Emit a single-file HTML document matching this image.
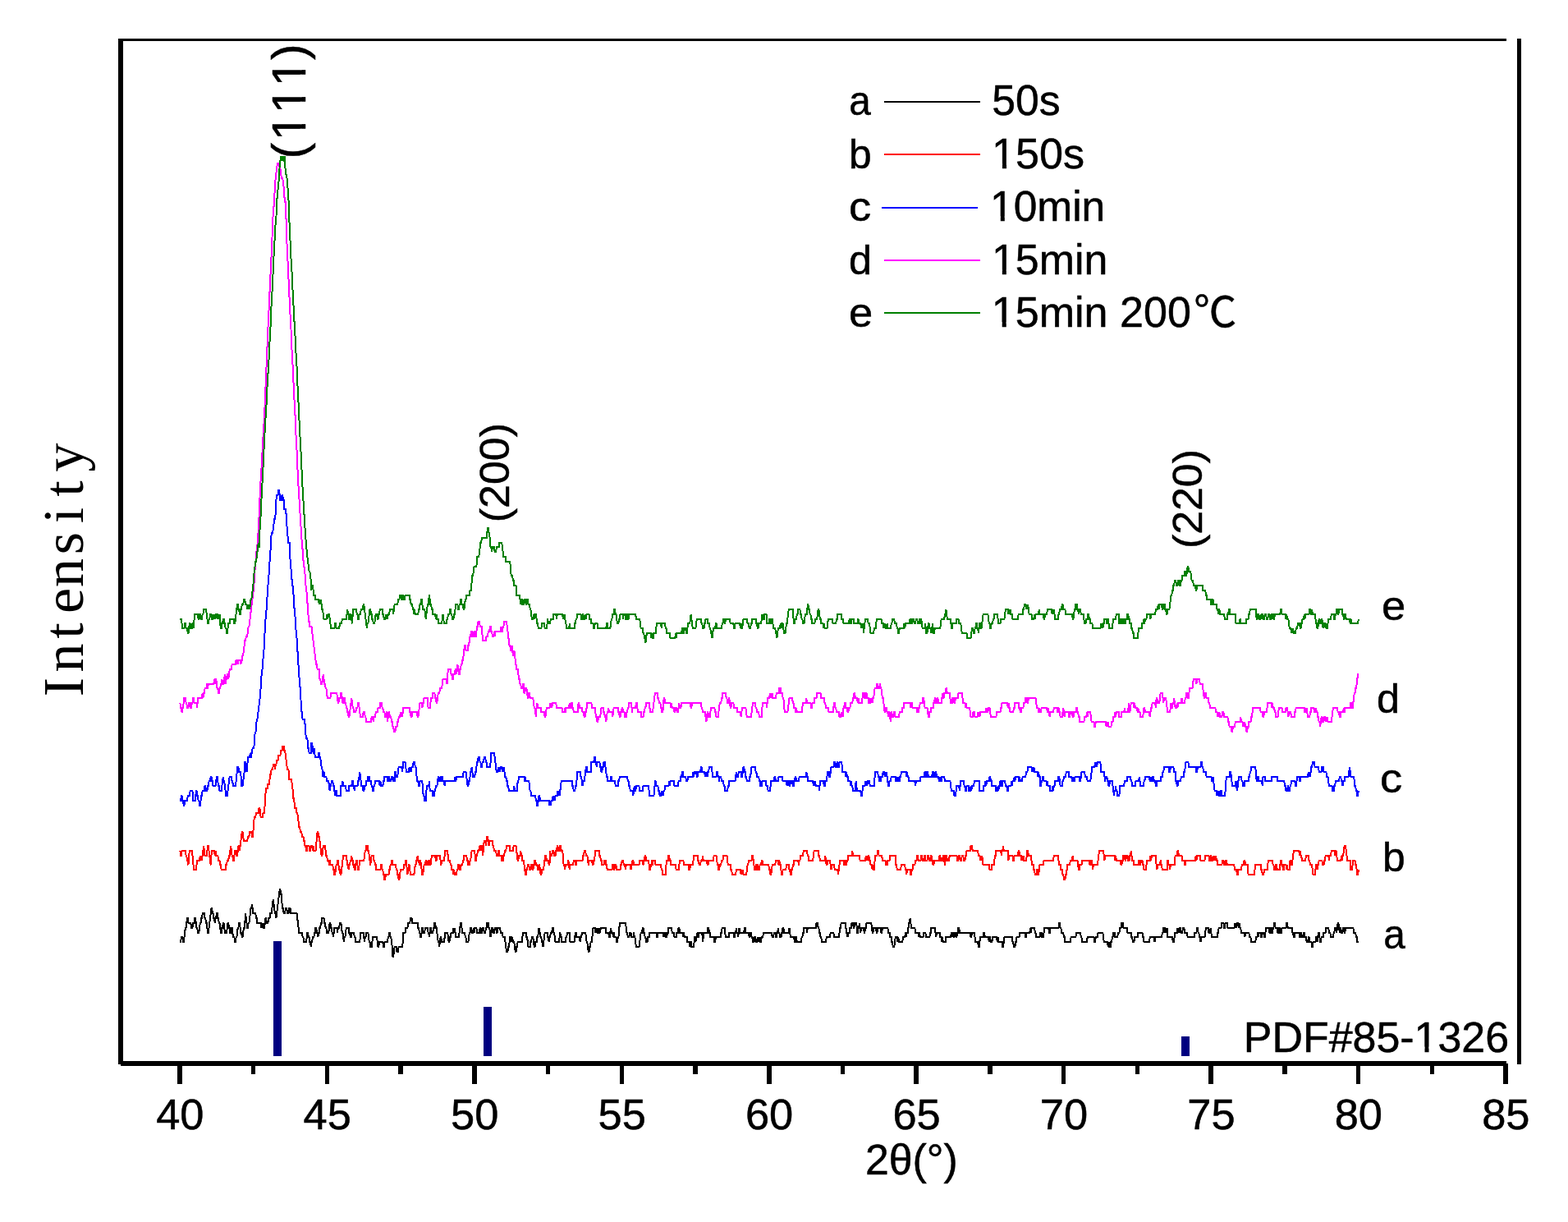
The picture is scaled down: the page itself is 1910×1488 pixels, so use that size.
<!DOCTYPE html>
<html lang="en">
<head>
<meta charset="utf-8">
<title>XRD patterns</title>
<style>
html,body{margin:0;padding:0;background:#fff;}
body{width:1910px;height:1488px;overflow:hidden;font-family:"Liberation Sans",sans-serif;}
svg{display:block;}
</style>
</head>
<body>
<svg xmlns="http://www.w3.org/2000/svg" width="1910" height="1488" viewBox="0 0 1910 1488">
<rect x="0" y="0" width="1910" height="1488" fill="#fff"/>
<g fill="none" stroke-width="2" stroke-linejoin="miter" stroke-linecap="butt" shape-rendering="crispEdges">
<polyline stroke="#000000" points="219.4,1147.14 220.12,1147.14 220.84,1141.33 222.27,1141.33 222.99,1147.14 223.71,1147.14 224.42,1141.33 225.14,1135.52 225.86,1129.71 226.58,1129.71 227.29,1123.9 228.01,1118.09 228.73,1118.09 229.45,1123.9 232.32,1123.9 233.04,1129.71 234.47,1129.71 235.19,1123.9 236.62,1123.9 237.34,1118.09 238.06,1118.09 238.78,1123.9 239.5,1129.71 240.21,1129.71 240.93,1135.52 242.37,1135.52 243.08,1129.71 243.8,1123.9 244.52,1123.9 245.24,1118.09 245.95,1118.09 246.67,1112.28 248.83,1112.28 249.54,1118.09 250.26,1118.09 250.98,1123.9 251.7,1123.9 252.41,1129.71 253.13,1135.52 253.85,1135.52 254.57,1129.71 255.29,1123.9 256,1118.09 256.72,1112.28 257.44,1106.47 258.16,1106.47 258.87,1112.28 259.59,1112.28 260.31,1118.09 261.03,1118.09 261.74,1123.9 262.46,1118.09 263.18,1118.09 263.9,1112.28 264.62,1112.28 265.33,1118.09 266.05,1118.09 266.77,1123.9 267.49,1123.9 268.2,1129.71 268.92,1135.52 269.64,1135.52 270.36,1129.71 271.07,1129.71 271.79,1123.9 272.51,1123.9 273.23,1129.71 273.95,1135.52 276.1,1135.52 276.82,1129.71 277.53,1123.9 278.25,1123.9 278.97,1129.71 279.69,1129.71 280.4,1135.52 281.12,1135.52 281.84,1129.71 282.56,1129.71 283.28,1135.52 283.99,1141.33 285.43,1141.33 286.15,1147.14 286.86,1147.14 287.58,1141.33 288.3,1141.33 289.02,1135.52 289.73,1129.71 290.45,1129.71 291.17,1123.9 291.89,1123.9 292.61,1129.71 293.32,1135.52 294.04,1135.52 294.76,1141.33 295.48,1141.33 296.19,1135.52 296.91,1129.71 297.63,1129.71 298.35,1123.9 299.06,1112.28 299.78,1118.09 300.5,1123.9 301.22,1129.71 301.94,1129.71 302.65,1123.9 303.37,1123.9 304.09,1118.09 304.81,1112.28 305.52,1106.47 306.24,1106.47 306.96,1100.66 307.68,1106.47 308.39,1112.28 311.27,1112.28 311.98,1118.09 312.7,1118.09 313.42,1123.9 317.72,1123.9 318.44,1129.71 319.16,1123.9 319.88,1129.71 320.6,1123.9 321.31,1129.71 322.03,1129.71 322.75,1123.9 323.47,1118.09 324.18,1118.09 324.9,1123.9 326.34,1123.9 327.06,1118.09 328.49,1118.09 329.21,1112.28 330.64,1112.28 331.36,1106.47 332.08,1100.66 332.8,1094.85 333.51,1100.66 334.23,1106.47 334.95,1112.28 335.67,1112.28 336.39,1118.09 337.1,1112.28 337.82,1106.47 338.54,1100.66 339.26,1094.85 339.97,1089.04 340.69,1083.23 341.41,1083.23 342.13,1089.04 342.84,1089.04 343.56,1100.66 344.28,1106.47 345,1106.47 345.72,1112.28 347.15,1112.28 347.87,1106.47 349.3,1106.47 350.02,1112.28 351.46,1112.28 352.17,1106.47 353.61,1106.47 354.33,1112.28 361.5,1112.28 362.22,1118.09 362.94,1123.9 363.66,1129.71 364.38,1135.52 367.96,1135.52 368.68,1141.33 369.4,1141.33 370.12,1147.14 372.99,1147.14 373.71,1141.33 374.42,1135.52 375.14,1135.52 375.86,1141.33 376.58,1141.33 377.29,1147.14 378.01,1147.14 378.73,1152.95 379.45,1147.14 380.16,1147.14 380.88,1141.33 382.32,1141.33 383.04,1135.52 383.75,1135.52 384.47,1129.71 385.19,1129.71 385.91,1135.52 386.62,1135.52 387.34,1141.33 388.06,1135.52 388.78,1135.52 389.49,1129.71 390.21,1129.71 390.93,1123.9 391.65,1123.9 392.37,1118.09 394.52,1118.09 395.24,1123.9 395.95,1123.9 396.67,1129.71 397.39,1129.71 398.11,1135.52 400.26,1135.52 400.98,1129.71 401.7,1123.9 402.41,1123.9 403.13,1129.71 403.85,1129.71 404.57,1135.52 405.28,1135.52 406,1141.33 406.72,1135.52 407.44,1129.71 410.31,1129.71 411.03,1135.52 411.74,1129.71 413.18,1129.71 413.9,1123.9 415.33,1123.9 416.05,1129.71 416.77,1135.52 417.49,1135.52 418.2,1141.33 418.92,1147.14 419.64,1141.33 420.36,1141.33 421.07,1135.52 421.79,1129.71 424.66,1129.71 425.38,1135.52 426.1,1135.52 426.82,1141.33 427.53,1141.33 428.25,1135.52 431.12,1135.52 431.84,1141.33 432.56,1141.33 433.27,1147.14 438.3,1147.14 439.02,1135.52 442.6,1135.52 443.32,1141.33 444.04,1147.14 444.76,1141.33 445.48,1141.33 446.19,1135.52 448.35,1135.52 449.06,1141.33 449.78,1147.14 450.5,1147.14 451.22,1152.95 452.65,1152.95 453.37,1147.14 454.09,1141.33 459.11,1141.33 459.83,1147.14 460.55,1152.95 461.26,1152.95 461.98,1147.14 466.29,1147.14 467.01,1152.95 467.72,1152.95 468.44,1147.14 472.03,1147.14 472.75,1141.33 473.47,1141.33 474.18,1135.52 474.9,1135.52 475.62,1141.33 476.34,1141.33 477.05,1147.14 477.77,1152.95 478.49,1164.57 479.21,1164.57 479.93,1158.76 480.64,1152.95 482.8,1152.95 483.51,1158.76 484.95,1158.76 485.67,1152.95 489.97,1152.95 490.69,1147.14 491.41,1135.52 493.56,1135.52 494.28,1129.71 496.43,1129.71 497.15,1123.9 499.3,1123.9 500.02,1118.09 501.46,1118.09 502.17,1123.9 508.63,1123.9 509.35,1129.71 510.07,1129.71 510.79,1135.52 511.5,1135.52 512.22,1141.33 512.94,1141.33 513.66,1135.52 514.37,1129.71 515.09,1129.71 515.81,1135.52 517.25,1135.52 517.96,1129.71 520.83,1129.71 521.55,1135.52 522.27,1135.52 522.99,1141.33 523.7,1135.52 524.42,1129.71 525.14,1129.71 525.86,1135.52 527.29,1135.52 528.01,1129.71 528.73,1129.71 529.45,1123.9 530.16,1123.9 530.88,1129.71 531.6,1129.71 532.32,1135.52 533.03,1141.33 533.75,1147.14 534.47,1147.14 535.19,1152.95 535.91,1147.14 536.62,1141.33 537.34,1141.33 538.06,1147.14 540.93,1147.14 541.65,1141.33 542.37,1135.52 545.24,1135.52 545.95,1141.33 546.67,1147.14 547.39,1147.14 548.11,1141.33 548.82,1141.33 549.54,1135.52 551.7,1135.52 552.41,1129.71 553.13,1135.52 553.85,1129.71 554.57,1135.52 555.28,1141.33 558.87,1141.33 559.59,1135.52 560.31,1129.71 561.03,1123.9 561.74,1123.9 562.46,1129.71 563.18,1135.52 566.05,1135.52 566.77,1141.33 567.48,1141.33 568.2,1147.14 570.36,1147.14 571.07,1141.33 571.79,1135.52 572.51,1135.52 573.23,1129.71 573.94,1129.71 574.66,1135.52 576.1,1135.52 576.81,1129.71 577.53,1135.52 578.25,1129.71 580.4,1129.71 581.12,1135.52 583.99,1135.52 584.71,1129.71 585.43,1129.71 586.14,1135.52 586.86,1135.52 587.58,1129.71 589.02,1129.71 589.73,1135.52 591.17,1135.52 591.89,1129.71 592.6,1129.71 593.32,1123.9 594.76,1123.9 595.47,1129.71 596.19,1129.71 596.91,1135.52 597.63,1141.33 598.35,1135.52 599.06,1129.71 599.78,1129.71 600.5,1135.52 601.93,1135.52 602.65,1129.71 604.09,1129.71 604.8,1135.52 605.52,1135.52 606.24,1129.71 609.11,1129.71 609.83,1135.52 611.98,1135.52 612.7,1141.33 614.85,1141.33 615.57,1147.14 616.29,1152.95 617.01,1158.76 618.44,1158.76 619.16,1152.95 619.88,1152.95 620.59,1147.14 621.31,1141.33 622.75,1141.33 623.47,1147.14 624.18,1141.33 624.9,1147.14 626.34,1147.14 627.05,1152.95 627.77,1158.76 628.49,1158.76 629.21,1152.95 629.92,1152.95 630.64,1147.14 635.67,1147.14 636.38,1141.33 637.1,1135.52 640.69,1135.52 641.41,1141.33 642.13,1141.33 642.84,1147.14 643.56,1152.95 645.71,1152.95 646.43,1147.14 647.15,1147.14 647.87,1141.33 649.3,1141.33 650.02,1147.14 650.74,1152.95 651.46,1152.95 652.17,1147.14 653.61,1147.14 654.33,1141.33 655.04,1141.33 655.76,1135.52 656.48,1129.71 657.2,1135.52 657.91,1135.52 658.63,1141.33 659.35,1141.33 660.07,1147.14 660.79,1147.14 661.5,1152.95 662.22,1147.14 662.94,1141.33 663.66,1135.52 666.53,1135.52 667.24,1141.33 667.96,1141.33 668.68,1147.14 669.4,1141.33 670.12,1141.33 670.83,1135.52 672.27,1135.52 672.99,1129.71 673.7,1129.71 674.42,1135.52 675.14,1135.52 675.86,1141.33 676.57,1147.14 680.88,1147.14 681.6,1141.33 682.32,1135.52 683.03,1141.33 683.75,1141.33 684.47,1147.14 688.78,1147.14 689.49,1141.33 690.21,1141.33 690.93,1135.52 693.8,1135.52 694.52,1147.14 699.54,1147.14 700.26,1141.33 700.98,1135.52 701.69,1135.52 702.41,1141.33 706,1141.33 706.72,1147.14 707.44,1141.33 708.15,1141.33 708.87,1135.52 713.18,1135.52 713.9,1141.33 714.61,1147.14 715.33,1147.14 716.05,1152.95 716.77,1158.76 717.48,1158.76 718.2,1152.95 718.92,1152.95 719.64,1147.14 721.07,1147.14 721.79,1135.52 722.51,1129.71 724.66,1129.71 725.38,1135.52 726.1,1129.71 726.81,1135.52 727.53,1129.71 728.25,1135.52 729.68,1135.52 730.4,1129.71 731.12,1135.52 731.84,1129.71 737.58,1129.71 738.3,1135.52 741.17,1135.52 741.89,1141.33 742.6,1141.33 743.32,1135.52 744.04,1129.71 744.76,1135.52 746.19,1135.52 746.91,1141.33 747.63,1135.52 748.34,1141.33 750.5,1141.33 751.22,1147.14 751.93,1147.14 752.65,1141.33 753.37,1141.33 754.09,1135.52 754.8,1123.9 761.98,1123.9 762.7,1129.71 763.42,1135.52 764.13,1135.52 764.85,1141.33 766.29,1141.33 767.01,1135.52 768.44,1135.52 769.16,1141.33 771.31,1141.33 772.03,1135.52 772.75,1141.33 773.46,1141.33 774.18,1147.14 774.9,1152.95 778.49,1152.95 779.21,1147.14 779.92,1141.33 780.64,1135.52 782.08,1135.52 782.79,1129.71 783.51,1129.71 784.23,1135.52 784.95,1135.52 785.67,1141.33 786.38,1141.33 787.1,1147.14 788.54,1147.14 789.25,1141.33 790.69,1141.33 791.41,1135.52 799.3,1135.52 800.02,1141.33 800.74,1141.33 801.45,1135.52 807.91,1135.52 808.63,1141.33 809.35,1135.52 810.07,1141.33 810.78,1135.52 811.5,1141.33 812.22,1141.33 812.94,1135.52 813.66,1135.52 814.37,1129.71 817.96,1129.71 818.68,1135.52 820.83,1135.52 821.55,1141.33 823.7,1141.33 824.42,1135.52 825.86,1135.52 826.57,1129.71 827.29,1129.71 828.01,1135.52 831.6,1135.52 832.32,1141.33 833.03,1135.52 833.75,1141.33 836.62,1141.33 837.34,1147.14 839.49,1147.14 840.21,1152.95 840.93,1147.14 841.65,1147.14 842.36,1152.95 845.23,1152.95 845.95,1141.33 846.67,1141.33 847.39,1147.14 848.11,1141.33 848.82,1141.33 849.54,1135.52 850.26,1141.33 850.98,1141.33 851.69,1135.52 855.28,1135.52 856,1147.14 856.72,1141.33 857.44,1135.52 861.74,1135.52 862.46,1129.71 863.18,1129.71 863.89,1135.52 864.61,1135.52 865.33,1141.33 869.64,1141.33 870.35,1147.14 871.07,1147.14 871.79,1141.33 877.53,1141.33 878.25,1135.52 878.97,1135.52 879.68,1129.71 882.55,1129.71 883.27,1135.52 883.99,1141.33 887.58,1141.33 888.3,1135.52 893.32,1135.52 894.04,1141.33 894.76,1141.33 895.47,1135.52 896.19,1135.52 896.91,1129.71 897.63,1135.52 898.34,1135.52 899.06,1141.33 899.78,1135.52 900.5,1129.71 901.22,1135.52 906.24,1135.52 906.96,1129.71 907.67,1129.71 908.39,1135.52 911.98,1135.52 912.7,1141.33 913.42,1141.33 914.13,1135.52 914.85,1135.52 915.57,1141.33 916.29,1141.33 917,1147.14 917.72,1147.14 918.44,1141.33 919.88,1141.33 920.59,1147.14 922.03,1147.14 922.75,1141.33 923.46,1147.14 924.18,1141.33 924.9,1147.14 925.62,1141.33 926.33,1147.14 927.05,1147.14 927.77,1141.33 929.21,1141.33 929.92,1135.52 939.97,1135.52 940.69,1141.33 942.12,1141.33 942.84,1135.52 944.28,1135.52 944.99,1141.33 945.71,1141.33 946.43,1135.52 947.15,1135.52 947.87,1129.71 948.58,1135.52 949.3,1135.52 950.02,1141.33 951.45,1141.33 952.17,1135.52 952.89,1135.52 953.61,1129.71 954.32,1129.71 955.04,1135.52 960.78,1135.52 961.5,1129.71 962.22,1135.52 962.94,1141.33 967.24,1141.33 967.96,1147.14 968.68,1147.14 969.4,1141.33 970.11,1141.33 970.83,1147.14 975.86,1147.14 976.57,1141.33 977.29,1141.33 978.01,1135.52 978.73,1135.52 979.44,1129.71 982.32,1129.71 983.03,1135.52 983.75,1129.71 993.8,1129.71 994.52,1123.9 995.95,1123.9 996.67,1129.71 997.39,1129.71 998.1,1135.52 998.82,1135.52 999.54,1141.33 1000.26,1141.33 1000.98,1147.14 1006,1147.14 1006.72,1141.33 1011.02,1141.33 1011.74,1135.52 1015.33,1135.52 1016.05,1141.33 1021.79,1141.33 1022.51,1135.52 1023.22,1129.71 1023.94,1129.71 1024.66,1123.9 1029.68,1123.9 1030.4,1129.71 1031.12,1135.52 1031.84,1135.52 1032.55,1141.33 1033.27,1135.52 1034.71,1135.52 1035.42,1129.71 1036.86,1129.71 1037.58,1123.9 1039.01,1123.9 1039.73,1129.71 1040.45,1129.71 1041.17,1123.9 1043.32,1123.9 1044.04,1135.52 1044.76,1135.52 1045.47,1129.71 1046.19,1129.71 1046.91,1123.9 1047.63,1129.71 1048.34,1135.52 1049.06,1129.71 1051.93,1129.71 1052.65,1135.52 1053.37,1135.52 1054.09,1129.71 1054.8,1129.71 1055.52,1123.9 1061.26,1123.9 1061.98,1129.71 1062.7,1135.52 1063.42,1135.52 1064.13,1129.71 1067,1129.71 1067.72,1135.52 1068.44,1135.52 1069.16,1129.71 1072.75,1129.71 1073.46,1135.52 1074.18,1135.52 1074.9,1129.71 1081.36,1129.71 1082.08,1135.52 1083.51,1135.52 1084.23,1141.33 1085.66,1141.33 1086.38,1147.14 1087.1,1147.14 1087.82,1152.95 1089.25,1152.95 1089.97,1147.14 1090.69,1141.33 1092.84,1141.33 1093.56,1147.14 1094.28,1141.33 1094.99,1147.14 1099.3,1147.14 1100.02,1141.33 1102.17,1141.33 1102.89,1135.52 1103.61,1141.33 1104.32,1135.52 1105.76,1135.52 1106.48,1129.71 1107.19,1123.9 1107.91,1123.9 1108.63,1118.09 1109.35,1123.9 1110.07,1129.71 1114.37,1129.71 1115.09,1135.52 1118.68,1135.52 1119.4,1141.33 1120.11,1135.52 1120.83,1141.33 1124.42,1141.33 1125.14,1135.52 1127.29,1135.52 1128.01,1141.33 1132.31,1141.33 1133.03,1135.52 1133.75,1135.52 1134.47,1129.71 1138.77,1129.71 1139.49,1135.52 1140.21,1141.33 1140.93,1135.52 1144.52,1135.52 1145.23,1141.33 1146.67,1141.33 1147.39,1147.14 1148.1,1141.33 1148.82,1147.14 1151.69,1147.14 1152.41,1141.33 1158.15,1141.33 1158.87,1135.52 1159.59,1141.33 1160.3,1135.52 1161.02,1135.52 1161.74,1141.33 1162.46,1141.33 1163.18,1135.52 1163.89,1135.52 1164.61,1141.33 1165.33,1141.33 1166.05,1135.52 1166.76,1135.52 1167.48,1129.71 1168.2,1129.71 1168.92,1135.52 1181.84,1135.52 1182.55,1141.33 1183.27,1141.33 1183.99,1135.52 1186.86,1135.52 1187.58,1141.33 1188.3,1147.14 1191.17,1147.14 1191.88,1152.95 1192.6,1152.95 1193.32,1147.14 1194.04,1141.33 1197.63,1141.33 1198.34,1135.52 1199.06,1135.52 1199.78,1141.33 1204.08,1141.33 1204.8,1147.14 1205.52,1141.33 1206.24,1141.33 1206.96,1147.14 1208.39,1147.14 1209.11,1141.33 1214.13,1141.33 1214.85,1147.14 1215.57,1141.33 1216.29,1147.14 1220.59,1147.14 1221.31,1152.95 1222.03,1152.95 1222.74,1147.14 1223.46,1141.33 1232.79,1141.33 1233.51,1147.14 1234.23,1147.14 1234.95,1152.95 1236.38,1152.95 1237.1,1147.14 1237.82,1147.14 1238.53,1141.33 1241.4,1141.33 1242.12,1135.52 1248.58,1135.52 1249.3,1141.33 1250.02,1141.33 1250.73,1135.52 1254.32,1135.52 1255.04,1129.71 1255.76,1135.52 1256.48,1129.71 1260.07,1129.71 1260.78,1135.52 1261.5,1135.52 1262.22,1141.33 1266.52,1141.33 1267.24,1135.52 1268.68,1135.52 1269.4,1141.33 1270.83,1141.33 1271.55,1135.52 1272.27,1129.71 1277.29,1129.71 1278.01,1135.52 1278.73,1135.52 1279.44,1129.71 1289.49,1129.71 1290.21,1123.9 1290.93,1123.9 1291.64,1129.71 1292.36,1129.71 1293.08,1135.52 1295.23,1135.52 1295.95,1141.33 1296.67,1141.33 1297.39,1147.14 1303.84,1147.14 1304.56,1141.33 1310.3,1141.33 1311.02,1135.52 1316.05,1135.52 1316.76,1141.33 1317.48,1141.33 1318.2,1147.14 1323.94,1147.14 1324.66,1141.33 1332.55,1141.33 1333.27,1147.14 1333.99,1147.14 1334.71,1141.33 1336.86,1141.33 1337.58,1135.52 1343.32,1135.52 1344.04,1141.33 1344.75,1147.14 1349.06,1147.14 1349.78,1152.95 1350.5,1147.14 1351.21,1152.95 1352.65,1152.95 1353.37,1147.14 1354.08,1147.14 1354.8,1141.33 1355.52,1141.33 1356.24,1135.52 1357.67,1135.52 1358.39,1141.33 1361.26,1141.33 1361.98,1135.52 1363.41,1135.52 1364.13,1129.71 1365.57,1129.71 1366.28,1123.9 1367.72,1123.9 1368.44,1129.71 1372.74,1129.71 1373.46,1135.52 1377.77,1135.52 1378.49,1141.33 1379.2,1141.33 1379.92,1147.14 1381.36,1147.14 1382.07,1141.33 1385.66,1141.33 1386.38,1135.52 1391.4,1135.52 1392.12,1141.33 1392.84,1141.33 1393.56,1147.14 1400.02,1147.14 1400.73,1141.33 1405.76,1141.33 1406.48,1147.14 1407.19,1141.33 1415.09,1141.33 1415.81,1135.52 1416.52,1135.52 1417.24,1129.71 1418.68,1129.71 1419.39,1135.52 1420.11,1129.71 1420.83,1135.52 1421.55,1129.71 1422.27,1141.33 1428.01,1141.33 1428.72,1147.14 1430.16,1147.14 1430.88,1135.52 1433.75,1135.52 1434.47,1129.71 1435.18,1135.52 1435.9,1129.71 1436.62,1135.52 1437.34,1129.71 1438.05,1129.71 1438.77,1135.52 1440.21,1135.52 1440.93,1129.71 1442.36,1129.71 1443.08,1135.52 1445.95,1135.52 1446.67,1141.33 1454.56,1141.33 1455.28,1135.52 1457.43,1135.52 1458.15,1129.71 1458.87,1129.71 1459.59,1135.52 1460.3,1135.52 1461.02,1141.33 1461.74,1141.33 1462.46,1147.14 1463.17,1141.33 1467.48,1141.33 1468.2,1135.52 1468.92,1129.71 1471.79,1129.71 1472.5,1135.52 1473.94,1135.52 1474.66,1129.71 1475.38,1135.52 1476.09,1141.33 1482.55,1141.33 1483.27,1135.52 1483.99,1135.52 1484.71,1129.71 1487.58,1129.71 1488.29,1123.9 1490.45,1123.9 1491.16,1129.71 1491.88,1129.71 1492.6,1123.9 1494.75,1123.9 1495.47,1129.71 1503.37,1129.71 1504.08,1123.9 1504.8,1129.71 1505.52,1123.9 1506.24,1129.71 1506.95,1123.9 1508.39,1123.9 1509.11,1129.71 1509.82,1123.9 1510.54,1129.71 1511.26,1129.71 1511.98,1135.52 1515.57,1135.52 1516.28,1141.33 1517,1135.52 1521.31,1135.52 1522.03,1141.33 1523.46,1141.33 1524.18,1147.14 1529.2,1147.14 1529.92,1141.33 1531.36,1141.33 1532.07,1135.52 1532.79,1141.33 1533.51,1135.52 1535.66,1135.52 1536.38,1141.33 1537.1,1141.33 1537.81,1135.52 1539.25,1135.52 1539.97,1141.33 1540.69,1141.33 1541.4,1135.52 1542.12,1129.71 1545.71,1129.71 1546.43,1135.52 1547.15,1135.52 1547.86,1129.71 1548.58,1129.71 1549.3,1135.52 1550.02,1135.52 1550.73,1129.71 1551.45,1129.71 1552.17,1123.9 1552.89,1123.9 1553.6,1129.71 1555.76,1129.71 1556.48,1135.52 1557.19,1135.52 1557.91,1129.71 1558.63,1129.71 1559.35,1135.52 1560.78,1135.52 1561.5,1129.71 1566.52,1129.71 1567.24,1123.9 1567.96,1123.9 1568.68,1129.71 1573.7,1129.71 1574.42,1135.52 1575.14,1135.52 1575.85,1141.33 1576.57,1141.33 1577.29,1135.52 1582.31,1135.52 1583.03,1141.33 1583.75,1141.33 1584.47,1135.52 1585.18,1135.52 1585.9,1141.33 1587.34,1141.33 1588.05,1135.52 1588.77,1135.52 1589.49,1141.33 1590.92,1141.33 1591.64,1147.14 1593.08,1147.14 1593.8,1141.33 1594.51,1141.33 1595.23,1147.14 1597.38,1147.14 1598.1,1152.95 1598.82,1152.95 1599.54,1147.14 1602.41,1147.14 1603.13,1141.33 1603.84,1141.33 1604.56,1147.14 1605.28,1141.33 1606,1135.52 1606.71,1135.52 1607.43,1141.33 1608.15,1147.14 1608.87,1147.14 1609.58,1141.33 1611.74,1141.33 1612.46,1135.52 1614.61,1135.52 1615.33,1129.71 1618.2,1129.71 1618.92,1135.52 1620.35,1135.52 1621.07,1141.33 1623.94,1141.33 1624.66,1135.52 1625.37,1135.52 1626.09,1129.71 1627.53,1129.71 1628.25,1135.52 1628.96,1129.71 1629.68,1123.9 1630.4,1123.9 1631.12,1129.71 1631.83,1135.52 1632.55,1129.71 1633.27,1129.71 1633.99,1135.52 1635.42,1135.52 1636.14,1129.71 1636.86,1129.71 1637.58,1135.52 1638.29,1135.52 1639.01,1129.71 1648.34,1129.71 1649.06,1135.52 1651.21,1135.52 1651.93,1141.33 1652.65,1141.33 1653.36,1147.14 1654.8,1147.14"/>
<polyline stroke="#ff0000" points="219.4,1035.98 220.12,1041.79 220.84,1041.79 221.55,1035.98 225.86,1035.98 226.58,1041.79 227.29,1041.79 228.01,1047.6 228.73,1047.6 229.45,1053.41 230.17,1041.79 230.88,1035.98 233.75,1035.98 234.47,1041.79 235.19,1047.6 235.91,1059.22 238.78,1059.22 239.5,1053.41 240.21,1047.6 243.08,1047.6 243.8,1041.79 244.52,1047.6 245.24,1041.79 245.95,1047.6 246.67,1041.79 247.39,1035.98 248.11,1030.17 248.83,1035.98 249.54,1041.79 251.7,1041.79 252.41,1035.98 253.13,1030.17 253.85,1030.17 254.57,1035.98 255.29,1041.79 256,1047.6 256.72,1053.41 257.44,1041.79 258.16,1035.98 261.03,1035.98 261.74,1041.79 262.46,1035.98 263.18,1041.79 265.33,1041.79 266.05,1047.6 267.49,1047.6 268.2,1053.41 268.92,1053.41 269.64,1059.22 274.66,1059.22 275.38,1053.41 276.1,1053.41 276.82,1047.6 278.25,1047.6 278.97,1041.79 279.69,1041.79 280.4,1035.98 281.12,1030.17 281.84,1035.98 282.56,1041.79 283.28,1041.79 283.99,1047.6 284.71,1047.6 285.43,1041.79 286.15,1035.98 287.58,1035.98 288.3,1041.79 289.02,1041.79 289.73,1035.98 290.45,1030.17 291.17,1030.17 291.89,1035.98 292.61,1030.17 293.32,1024.36 294.04,1018.55 294.76,1012.74 295.48,1012.74 296.19,1018.55 296.91,1024.36 301.22,1024.36 301.94,1018.55 303.37,1018.55 304.09,1012.74 306.24,1012.74 306.96,1018.55 307.68,1018.55 308.39,1012.74 309.11,1001.12 309.83,995.31 311.27,995.31 311.98,989.5 314.85,989.5 315.57,983.69 316.29,983.69 317.01,989.5 317.72,995.31 319.88,995.31 320.6,989.5 322.03,989.5 322.75,977.88 323.47,966.26 324.18,960.45 325.62,960.45 326.34,954.64 327.77,954.64 328.49,948.83 329.21,943.02 329.93,943.02 330.64,937.21 332.08,937.21 332.8,931.4 334.23,931.4 334.95,937.21 335.67,931.4 336.39,931.4 337.1,925.59 338.54,925.59 339.26,919.78 341.41,919.78 342.13,913.97 343.56,913.97 344.28,908.16 345,913.97 345.72,908.16 346.43,913.97 347.15,913.97 347.87,919.78 348.59,925.59 349.3,931.4 350.02,937.21 351.46,937.21 352.17,948.83 355.05,948.83 355.76,954.64 356.48,960.45 357.2,972.07 357.92,972.07 358.63,977.88 359.35,983.69 360.79,983.69 361.5,989.5 362.22,989.5 362.94,995.31 363.66,1001.12 364.38,1006.93 365.09,1006.93 365.81,1012.74 367.25,1012.74 367.96,1018.55 369.4,1018.55 370.12,1024.36 370.83,1024.36 371.55,1030.17 372.27,1030.17 372.99,1035.98 373.71,1035.98 374.42,1030.17 376.58,1030.17 377.29,1035.98 378.01,1035.98 378.73,1030.17 380.16,1030.17 380.88,1035.98 381.6,1030.17 382.32,1035.98 384.47,1035.98 385.19,1030.17 385.91,1018.55 386.62,1012.74 387.34,1012.74 388.06,1018.55 388.78,1018.55 389.49,1024.36 390.21,1030.17 390.93,1035.98 391.65,1041.79 392.37,1041.79 393.08,1035.98 393.8,1030.17 395.95,1030.17 396.67,1035.98 397.39,1041.79 398.11,1041.79 398.83,1047.6 400.26,1047.6 400.98,1053.41 401.7,1047.6 402.41,1053.41 405.28,1053.41 406,1059.22 406.72,1059.22 407.44,1065.03 408.16,1065.03 408.87,1059.22 409.59,1053.41 410.31,1053.41 411.03,1047.6 411.74,1047.6 412.46,1053.41 413.18,1059.22 413.9,1059.22 414.61,1065.03 415.33,1065.03 416.05,1059.22 416.77,1053.41 417.49,1047.6 418.2,1041.79 421.79,1041.79 422.51,1047.6 423.23,1053.41 423.94,1053.41 424.66,1059.22 425.38,1053.41 426.1,1053.41 426.82,1047.6 427.53,1047.6 428.25,1041.79 428.97,1047.6 429.69,1047.6 430.4,1053.41 431.12,1053.41 431.84,1059.22 432.56,1059.22 433.27,1053.41 433.99,1047.6 434.71,1047.6 435.43,1053.41 436.15,1059.22 436.86,1059.22 437.58,1053.41 438.3,1047.6 443.32,1047.6 444.04,1041.79 444.76,1035.98 445.48,1035.98 446.19,1030.17 447.63,1030.17 448.35,1035.98 449.06,1035.98 449.78,1041.79 450.5,1047.6 451.22,1053.41 451.93,1047.6 452.65,1041.79 454.81,1041.79 455.52,1047.6 456.24,1047.6 456.96,1053.41 457.68,1053.41 458.39,1059.22 463.42,1059.22 464.14,1053.41 464.85,1053.41 465.57,1059.22 466.29,1059.22 467.01,1065.03 467.72,1065.03 468.44,1070.84 469.16,1070.84 469.88,1065.03 473.47,1065.03 474.18,1059.22 474.9,1059.22 475.62,1053.41 476.34,1053.41 477.05,1047.6 477.77,1047.6 478.49,1053.41 482.08,1053.41 482.8,1059.22 483.51,1059.22 484.23,1065.03 484.95,1065.03 485.67,1070.84 486.38,1070.84 487.1,1065.03 487.82,1059.22 491.41,1059.22 492.13,1053.41 493.56,1053.41 494.28,1047.6 495,1047.6 495.71,1059.22 496.43,1065.03 497.15,1059.22 497.87,1053.41 498.59,1053.41 499.3,1059.22 500.02,1065.03 504.33,1065.03 505.04,1059.22 505.76,1053.41 506.48,1053.41 507.2,1047.6 507.92,1047.6 508.63,1041.79 509.35,1047.6 510.07,1047.6 510.79,1053.41 511.5,1047.6 512.22,1047.6 512.94,1053.41 513.66,1059.22 514.37,1065.03 515.09,1065.03 515.81,1059.22 516.53,1053.41 517.96,1053.41 518.68,1047.6 519.4,1047.6 520.12,1053.41 521.55,1053.41 522.27,1047.6 523.7,1047.6 524.42,1053.41 525.14,1047.6 525.86,1041.79 530.16,1041.79 530.88,1047.6 531.6,1047.6 532.32,1041.79 535.91,1041.79 536.62,1047.6 537.34,1053.41 538.06,1047.6 540.93,1047.6 541.65,1041.79 542.37,1035.98 545.24,1035.98 545.95,1047.6 548.11,1047.6 548.82,1053.41 549.54,1053.41 550.26,1059.22 551.7,1059.22 552.41,1065.03 553.13,1059.22 553.85,1065.03 556,1065.03 556.72,1059.22 557.44,1059.22 558.15,1053.41 559.59,1053.41 560.31,1059.22 561.03,1059.22 561.74,1053.41 563.18,1053.41 563.9,1047.6 564.61,1047.6 565.33,1041.79 568.2,1041.79 568.92,1047.6 569.64,1047.6 570.36,1053.41 571.79,1053.41 572.51,1047.6 573.23,1047.6 573.94,1041.79 574.66,1035.98 578.25,1035.98 578.97,1047.6 579.69,1047.6 580.4,1041.79 581.12,1041.79 581.84,1035.98 583.27,1035.98 583.99,1030.17 584.71,1035.98 585.43,1030.17 586.86,1030.17 587.58,1035.98 588.3,1041.79 589.02,1030.17 589.73,1024.36 591.17,1024.36 591.89,1030.17 592.6,1024.36 593.32,1018.55 594.04,1018.55 594.76,1024.36 595.47,1030.17 596.19,1024.36 599.78,1024.36 600.5,1030.17 601.22,1030.17 601.93,1035.98 604.09,1035.98 604.8,1041.79 606.24,1041.79 606.96,1035.98 607.68,1035.98 608.39,1041.79 610.55,1041.79 611.26,1047.6 612.7,1047.6 613.42,1041.79 614.14,1041.79 614.85,1035.98 616.29,1035.98 617.01,1030.17 620.59,1030.17 621.31,1035.98 624.9,1035.98 625.62,1030.17 628.49,1030.17 629.21,1035.98 629.92,1041.79 630.64,1047.6 631.36,1047.6 632.08,1041.79 633.51,1041.79 634.23,1035.98 634.95,1041.79 635.67,1041.79 636.38,1047.6 637.82,1047.6 638.54,1053.41 639.25,1059.22 639.97,1065.03 640.69,1065.03 641.41,1059.22 642.13,1059.22 642.84,1053.41 644.28,1053.41 645,1059.22 646.43,1059.22 647.15,1053.41 647.87,1053.41 648.58,1059.22 649.3,1059.22 650.02,1053.41 650.74,1053.41 651.46,1047.6 652.17,1047.6 652.89,1053.41 654.33,1053.41 655.04,1059.22 655.76,1059.22 656.48,1053.41 657.2,1053.41 657.91,1059.22 658.63,1065.03 659.35,1065.03 660.07,1059.22 662.22,1059.22 662.94,1047.6 663.66,1047.6 664.37,1041.79 665.09,1041.79 665.81,1047.6 667.96,1047.6 668.68,1053.41 669.4,1053.41 670.12,1035.98 670.83,1041.79 672.27,1041.79 672.99,1035.98 674.42,1035.98 675.14,1041.79 676.57,1041.79 677.29,1035.98 678.01,1035.98 678.73,1030.17 679.45,1030.17 680.16,1035.98 681.6,1035.98 682.32,1030.17 683.03,1030.17 683.75,1035.98 685.19,1035.98 685.91,1041.79 686.62,1053.41 687.34,1053.41 688.06,1059.22 688.78,1053.41 691.65,1053.41 692.36,1047.6 693.08,1053.41 693.8,1059.22 694.52,1053.41 698.11,1053.41 698.82,1047.6 700.26,1047.6 700.98,1053.41 701.69,1053.41 702.41,1047.6 709.59,1047.6 710.31,1041.79 711.02,1041.79 711.74,1035.98 713.18,1035.98 713.9,1041.79 715.33,1041.79 716.05,1047.6 716.77,1053.41 717.48,1047.6 721.07,1047.6 721.79,1053.41 722.51,1053.41 723.23,1047.6 723.94,1047.6 724.66,1041.79 725.38,1035.98 729.68,1035.98 730.4,1041.79 731.12,1041.79 731.84,1047.6 732.56,1047.6 733.27,1053.41 735.43,1053.41 736.14,1047.6 737.58,1047.6 738.3,1053.41 739.01,1053.41 739.73,1059.22 745.47,1059.22 746.19,1053.41 746.91,1053.41 747.63,1059.22 748.34,1059.22 749.06,1053.41 750.5,1053.41 751.22,1059.22 755.52,1059.22 756.24,1053.41 756.96,1053.41 757.68,1047.6 759.11,1047.6 759.83,1053.41 761.26,1053.41 761.98,1059.22 762.7,1053.41 767.72,1053.41 768.44,1059.22 769.16,1053.41 769.88,1053.41 770.59,1047.6 771.31,1047.6 772.03,1053.41 778.49,1053.41 779.21,1047.6 782.79,1047.6 783.51,1053.41 784.23,1047.6 784.95,1047.6 785.67,1041.79 786.38,1041.79 787.1,1047.6 789.97,1047.6 790.69,1053.41 791.41,1059.22 792.12,1059.22 792.84,1053.41 793.56,1053.41 794.28,1047.6 795,1053.41 795.71,1047.6 797.87,1047.6 798.58,1053.41 805.04,1053.41 805.76,1059.22 806.48,1059.22 807.2,1065.03 810.78,1065.03 811.5,1053.41 812.22,1047.6 813.66,1047.6 814.37,1041.79 815.09,1041.79 815.81,1047.6 816.53,1047.6 817.24,1053.41 822.99,1053.41 823.7,1059.22 826.57,1059.22 827.29,1053.41 828.01,1047.6 832.32,1047.6 833.03,1053.41 838.78,1053.41 839.49,1059.22 840.21,1059.22 840.93,1053.41 843.8,1053.41 844.52,1047.6 845.23,1041.79 849.54,1041.79 850.26,1047.6 850.98,1047.6 851.69,1053.41 853.13,1053.41 853.85,1047.6 855.28,1047.6 856,1041.79 856.72,1047.6 861.02,1047.6 861.74,1053.41 862.46,1053.41 863.18,1047.6 868.92,1047.6 869.64,1041.79 872.51,1041.79 873.22,1047.6 873.94,1053.41 874.66,1053.41 875.38,1059.22 876.1,1059.22 876.81,1053.41 878.25,1053.41 878.97,1047.6 880.4,1047.6 881.12,1041.79 885.43,1041.79 886.14,1047.6 886.86,1053.41 889.73,1053.41 890.45,1059.22 891.17,1059.22 891.88,1065.03 896.19,1065.03 896.91,1059.22 901.93,1059.22 902.65,1065.03 903.37,1059.22 904.09,1065.03 904.8,1059.22 905.52,1065.03 909.11,1065.03 909.83,1059.22 910.55,1053.41 911.26,1053.41 911.98,1047.6 915.57,1047.6 916.29,1041.79 917,1041.79 917.72,1047.6 918.44,1053.41 919.16,1059.22 920.59,1059.22 921.31,1053.41 922.75,1053.41 923.46,1059.22 924.9,1059.22 925.62,1053.41 927.05,1053.41 927.77,1047.6 928.49,1047.6 929.21,1053.41 936.38,1053.41 937.1,1059.22 937.82,1059.22 938.54,1065.03 939.25,1065.03 939.97,1059.22 940.69,1053.41 944.28,1053.41 944.99,1047.6 947.87,1047.6 948.58,1053.41 949.3,1047.6 950.02,1053.41 950.74,1053.41 951.45,1059.22 952.17,1065.03 952.89,1065.03 953.61,1059.22 957.2,1059.22 957.91,1053.41 960.78,1053.41 961.5,1059.22 962.22,1059.22 962.94,1065.03 963.65,1065.03 964.37,1059.22 965.09,1059.22 965.81,1053.41 966.53,1053.41 967.24,1047.6 972.27,1047.6 972.99,1053.41 973.7,1047.6 974.42,1047.6 975.14,1041.79 978.01,1041.79 978.73,1035.98 983.03,1035.98 983.75,1041.79 984.47,1041.79 985.19,1047.6 990.21,1047.6 990.93,1041.79 991.65,1035.98 996.67,1035.98 997.39,1041.79 998.1,1041.79 998.82,1047.6 1004.56,1047.6 1005.28,1041.79 1006,1047.6 1006.72,1053.41 1007.43,1053.41 1008.15,1047.6 1011.02,1047.6 1011.74,1053.41 1012.46,1059.22 1013.18,1053.41 1016.05,1053.41 1016.76,1059.22 1020.35,1059.22 1021.07,1065.03 1021.79,1059.22 1022.51,1053.41 1023.22,1047.6 1027.53,1047.6 1028.25,1053.41 1028.97,1047.6 1029.68,1053.41 1030.4,1047.6 1031.12,1053.41 1031.84,1047.6 1032.55,1047.6 1033.27,1041.79 1037.58,1041.79 1038.3,1035.98 1039.01,1041.79 1046.91,1041.79 1047.63,1047.6 1054.09,1047.6 1054.8,1041.79 1055.52,1047.6 1056.24,1041.79 1056.96,1047.6 1057.67,1041.79 1058.39,1041.79 1059.11,1047.6 1059.83,1047.6 1060.54,1053.41 1061.98,1053.41 1062.7,1059.22 1063.42,1053.41 1064.13,1059.22 1064.85,1059.22 1065.57,1047.6 1066.29,1041.79 1068.44,1041.79 1069.16,1035.98 1069.87,1035.98 1070.59,1041.79 1074.18,1041.79 1074.9,1047.6 1078.49,1047.6 1079.2,1053.41 1080.64,1053.41 1081.36,1047.6 1083.51,1047.6 1084.23,1041.79 1090.69,1041.79 1091.41,1053.41 1092.12,1053.41 1092.84,1059.22 1097.15,1059.22 1097.86,1053.41 1102.17,1053.41 1102.89,1059.22 1103.61,1059.22 1104.32,1065.03 1105.04,1059.22 1108.63,1059.22 1109.35,1065.03 1110.07,1065.03 1110.78,1059.22 1111.5,1059.22 1112.22,1053.41 1114.37,1053.41 1115.09,1047.6 1116.53,1047.6 1117.24,1041.79 1117.96,1041.79 1118.68,1047.6 1121.55,1047.6 1122.27,1041.79 1122.98,1041.79 1123.7,1047.6 1125.14,1047.6 1125.86,1041.79 1126.57,1041.79 1127.29,1047.6 1129.44,1047.6 1130.16,1041.79 1130.88,1041.79 1131.6,1047.6 1133.03,1047.6 1133.75,1041.79 1134.47,1041.79 1135.19,1047.6 1135.9,1047.6 1136.62,1053.41 1137.34,1053.41 1138.06,1047.6 1143.8,1047.6 1144.52,1041.79 1145.23,1041.79 1145.95,1047.6 1148.1,1047.6 1148.82,1041.79 1149.54,1041.79 1150.26,1047.6 1150.97,1053.41 1151.69,1047.6 1152.41,1041.79 1153.13,1041.79 1153.85,1047.6 1156,1047.6 1156.72,1041.79 1165.33,1041.79 1166.05,1047.6 1166.76,1047.6 1167.48,1041.79 1168.92,1041.79 1169.63,1047.6 1171.07,1047.6 1171.79,1041.79 1173.22,1041.79 1173.94,1047.6 1175.38,1047.6 1176.09,1041.79 1176.81,1041.79 1177.53,1035.98 1181.84,1035.98 1182.55,1030.17 1183.99,1030.17 1184.71,1035.98 1191.17,1035.98 1191.88,1041.79 1193.32,1041.79 1194.04,1047.6 1194.75,1041.79 1195.47,1047.6 1196.19,1041.79 1196.91,1047.6 1197.63,1053.41 1204.8,1053.41 1205.52,1059.22 1207.67,1059.22 1208.39,1053.41 1210.54,1053.41 1211.26,1047.6 1211.98,1041.79 1212.7,1041.79 1213.41,1035.98 1219.16,1035.98 1219.87,1041.79 1220.59,1035.98 1221.31,1035.98 1222.03,1030.17 1222.74,1035.98 1227.77,1035.98 1228.49,1047.6 1229.2,1041.79 1233.51,1041.79 1234.23,1047.6 1234.95,1047.6 1235.66,1041.79 1239.97,1041.79 1240.69,1035.98 1241.4,1035.98 1242.12,1041.79 1243.56,1041.79 1244.28,1047.6 1244.99,1041.79 1245.71,1047.6 1246.43,1041.79 1247.15,1047.6 1250.02,1047.6 1250.73,1041.79 1251.45,1035.98 1252.17,1035.98 1252.89,1041.79 1255.76,1041.79 1256.48,1047.6 1257.19,1053.41 1258.63,1053.41 1259.35,1059.22 1260.07,1059.22 1260.78,1065.03 1262.22,1065.03 1262.94,1059.22 1263.65,1059.22 1264.37,1065.03 1265.09,1065.03 1265.81,1059.22 1266.52,1053.41 1270.83,1053.41 1271.55,1047.6 1283.03,1047.6 1283.75,1041.79 1288.77,1041.79 1289.49,1047.6 1290.21,1053.41 1291.64,1053.41 1292.36,1059.22 1293.8,1059.22 1294.51,1065.03 1295.23,1065.03 1295.95,1070.84 1297.39,1070.84 1298.1,1065.03 1298.82,1065.03 1299.54,1059.22 1300.26,1053.41 1303.13,1053.41 1303.84,1047.6 1306,1047.6 1306.72,1041.79 1307.43,1047.6 1312.46,1047.6 1313.17,1053.41 1313.89,1059.22 1314.61,1059.22 1315.33,1053.41 1317.48,1053.41 1318.2,1047.6 1326.81,1047.6 1327.53,1053.41 1328.25,1047.6 1328.96,1053.41 1329.68,1047.6 1330.4,1053.41 1331.12,1059.22 1331.84,1053.41 1336.86,1053.41 1337.58,1047.6 1338.29,1041.79 1339.01,1035.98 1344.04,1035.98 1344.75,1041.79 1345.47,1047.6 1346.19,1041.79 1357.67,1041.79 1358.39,1047.6 1359.11,1041.79 1359.83,1047.6 1364.85,1047.6 1365.57,1053.41 1366.28,1053.41 1367,1047.6 1367.72,1047.6 1368.44,1041.79 1369.87,1041.79 1370.59,1047.6 1371.31,1047.6 1372.03,1041.79 1373.46,1041.79 1374.18,1047.6 1375.61,1047.6 1376.33,1041.79 1377.05,1041.79 1377.77,1035.98 1378.49,1041.79 1379.2,1047.6 1380.64,1047.6 1381.36,1053.41 1386.38,1053.41 1387.1,1047.6 1387.82,1053.41 1388.53,1047.6 1389.25,1053.41 1389.97,1047.6 1391.4,1047.6 1392.12,1053.41 1392.84,1053.41 1393.56,1059.22 1395.71,1059.22 1396.43,1053.41 1397.15,1047.6 1400.73,1047.6 1401.45,1041.79 1402.17,1047.6 1402.89,1041.79 1407.91,1041.79 1408.63,1053.41 1409.35,1059.22 1410.06,1053.41 1412.94,1053.41 1413.65,1047.6 1414.37,1053.41 1415.09,1053.41 1415.81,1059.22 1421.55,1059.22 1422.27,1047.6 1422.98,1047.6 1423.7,1053.41 1424.42,1053.41 1425.14,1059.22 1425.85,1053.41 1430.88,1053.41 1431.6,1041.79 1433.75,1041.79 1434.47,1035.98 1435.18,1035.98 1435.9,1041.79 1439.49,1041.79 1440.21,1047.6 1442.36,1047.6 1443.08,1053.41 1443.8,1053.41 1444.51,1047.6 1456,1047.6 1456.71,1041.79 1457.43,1047.6 1458.15,1041.79 1461.74,1041.79 1462.46,1047.6 1467.48,1047.6 1468.2,1041.79 1472.5,1041.79 1473.22,1047.6 1473.94,1047.6 1474.66,1041.79 1475.38,1041.79 1476.09,1047.6 1477.53,1047.6 1478.25,1041.79 1478.96,1047.6 1479.68,1041.79 1480.4,1047.6 1481.12,1041.79 1481.83,1047.6 1482.55,1047.6 1483.27,1053.41 1488.29,1053.41 1489.01,1047.6 1490.45,1047.6 1491.16,1053.41 1492.6,1053.41 1493.32,1047.6 1494.04,1047.6 1494.75,1053.41 1503.37,1053.41 1504.08,1059.22 1506.24,1059.22 1506.95,1065.03 1507.67,1065.03 1508.39,1059.22 1511.98,1059.22 1512.7,1053.41 1514.85,1053.41 1515.57,1047.6 1516.28,1047.6 1517,1053.41 1519.87,1053.41 1520.59,1065.03 1527.77,1065.03 1528.48,1059.22 1529.2,1053.41 1535.66,1053.41 1536.38,1059.22 1537.1,1059.22 1537.81,1065.03 1539.25,1065.03 1539.97,1059.22 1543.56,1059.22 1544.27,1053.41 1544.99,1047.6 1550.02,1047.6 1550.73,1053.41 1551.45,1053.41 1552.17,1059.22 1553.6,1059.22 1554.32,1053.41 1555.04,1053.41 1555.76,1059.22 1558.63,1059.22 1559.35,1053.41 1560.06,1047.6 1560.78,1047.6 1561.5,1053.41 1562.22,1053.41 1562.93,1059.22 1563.65,1059.22 1564.37,1053.41 1566.52,1053.41 1567.24,1059.22 1567.96,1053.41 1568.68,1059.22 1570.83,1059.22 1571.55,1047.6 1572.26,1047.6 1572.98,1053.41 1573.7,1053.41 1574.42,1047.6 1575.14,1041.79 1575.85,1035.98 1582.31,1035.98 1583.03,1041.79 1583.75,1035.98 1584.47,1041.79 1585.18,1041.79 1585.9,1047.6 1590.21,1047.6 1590.92,1041.79 1593.8,1041.79 1594.51,1047.6 1595.23,1047.6 1595.95,1053.41 1598.1,1053.41 1598.82,1059.22 1599.54,1065.03 1601.69,1065.03 1602.41,1059.22 1603.13,1053.41 1603.84,1053.41 1604.56,1059.22 1605.28,1053.41 1606,1053.41 1606.71,1047.6 1610.3,1047.6 1611.02,1053.41 1612.46,1053.41 1613.17,1047.6 1613.89,1047.6 1614.61,1041.79 1618.2,1041.79 1618.92,1047.6 1619.63,1041.79 1621.07,1041.79 1621.79,1035.98 1625.37,1035.98 1626.09,1041.79 1626.81,1035.98 1627.53,1035.98 1628.25,1041.79 1628.96,1047.6 1633.27,1047.6 1633.99,1041.79 1634.7,1047.6 1635.42,1041.79 1636.14,1041.79 1636.86,1035.98 1637.58,1030.17 1639.01,1030.17 1639.73,1035.98 1640.45,1041.79 1641.16,1047.6 1644.75,1047.6 1645.47,1059.22 1646.91,1059.22 1647.62,1053.41 1648.34,1047.6 1650.49,1047.6 1651.21,1053.41 1651.93,1053.41 1652.65,1059.22 1653.36,1065.03 1654.08,1065.03 1654.8,1059.22"/>
<polyline stroke="#0000ff" points="219.4,974.73 220.12,974.73 220.84,968.92 221.55,968.92 222.27,974.73 222.99,974.73 223.71,980.54 224.42,980.54 225.14,974.73 228.01,974.73 228.73,968.92 230.88,968.92 231.6,963.11 234.47,963.11 235.19,974.73 238.06,974.73 238.78,963.11 239.5,963.11 240.21,968.92 240.93,968.92 241.65,974.73 242.37,974.73 243.08,980.54 243.8,980.54 244.52,974.73 245.24,968.92 245.95,968.92 246.67,963.11 248.83,963.11 249.54,957.3 250.26,957.3 250.98,963.11 252.41,963.11 253.13,957.3 253.85,957.3 254.57,951.49 256,951.49 256.72,945.68 257.44,945.68 258.16,951.49 258.87,951.49 259.59,957.3 262.46,957.3 263.18,951.49 263.9,945.68 264.62,945.68 265.33,951.49 266.05,957.3 266.77,957.3 267.49,963.11 269.64,963.11 270.36,957.3 271.07,951.49 271.79,945.68 272.51,951.49 273.23,951.49 273.95,957.3 274.66,963.11 275.38,968.92 276.82,968.92 277.53,963.11 278.25,957.3 278.97,951.49 279.69,945.68 281.84,945.68 282.56,951.49 283.28,951.49 283.99,957.3 286.86,957.3 287.58,951.49 288.3,945.68 289.02,934.06 290.45,934.06 291.17,939.87 293.32,939.87 294.04,957.3 295.48,957.3 296.19,951.49 296.91,945.68 297.63,939.87 298.35,928.25 299.06,928.25 299.78,934.06 300.5,939.87 301.22,934.06 301.94,922.44 304.09,922.44 304.81,916.63 305.52,922.44 306.24,916.63 306.96,916.63 307.68,910.82 309.11,910.82 309.83,905.01 310.55,893.39 311.27,893.39 311.98,887.58 312.7,875.96 313.42,875.96 314.14,870.15 314.85,864.34 315.57,858.53 316.29,852.72 317.01,846.91 317.72,835.29 318.44,823.67 319.16,817.86 319.88,812.05 320.6,800.43 321.31,794.62 322.03,783 322.75,765.57 323.47,753.95 324.18,748.14 324.9,736.52 325.62,724.9 326.34,713.28 327.06,707.47 327.77,695.85 328.49,684.23 329.21,672.61 329.93,666.8 330.64,649.37 332.08,649.37 332.8,643.56 333.51,637.75 334.23,631.94 334.95,631.94 335.67,626.13 336.39,608.7 337.1,602.89 338.54,602.89 339.26,597.08 339.97,597.08 340.69,602.89 341.41,608.7 342.84,608.7 343.56,602.89 344.28,602.89 345,608.7 345.72,608.7 346.43,620.32 347.87,620.32 348.59,626.13 349.3,637.75 350.02,649.37 350.74,655.18 351.46,660.99 352.89,660.99 353.61,684.23 354.33,690.04 355.05,701.66 355.76,707.47 356.48,713.28 357.2,719.09 357.92,730.71 358.63,742.33 359.35,748.14 360.07,759.76 360.79,771.38 361.5,777.19 362.22,788.81 362.94,800.43 363.66,812.05 364.38,823.67 365.09,829.48 365.81,841.1 366.53,852.72 367.25,864.34 367.96,870.15 368.68,875.96 370.83,875.96 371.55,881.77 372.27,893.39 372.99,899.2 374.42,899.2 375.14,910.82 375.86,910.82 376.58,916.63 378.73,916.63 379.45,905.01 380.16,905.01 380.88,910.82 381.6,916.63 382.32,916.63 383.04,910.82 383.75,922.44 387.34,922.44 388.06,916.63 388.78,916.63 389.49,922.44 390.21,922.44 390.93,928.25 391.65,934.06 392.37,934.06 393.08,945.68 393.8,939.87 394.52,939.87 395.24,945.68 397.39,945.68 398.11,951.49 400.26,951.49 400.98,957.3 401.7,963.11 402.41,957.3 403.13,957.3 403.85,951.49 405.28,951.49 406,957.3 406.72,957.3 407.44,963.11 408.16,968.92 408.87,963.11 409.59,963.11 410.31,968.92 414.61,968.92 415.33,957.3 416.77,957.3 417.49,951.49 418.2,957.3 421.07,957.3 421.79,963.11 424.66,963.11 425.38,957.3 428.25,957.3 428.97,951.49 429.69,951.49 430.4,957.3 431.12,957.3 431.84,963.11 432.56,957.3 435.43,957.3 436.15,951.49 436.86,951.49 437.58,945.68 438.3,939.87 439.02,945.68 439.73,951.49 440.45,957.3 441.89,957.3 442.6,963.11 443.32,963.11 444.04,957.3 445.48,957.3 446.19,951.49 447.63,951.49 448.35,945.68 449.78,945.68 450.5,951.49 451.93,951.49 452.65,957.3 453.37,957.3 454.09,963.11 454.81,963.11 455.52,957.3 456.24,957.3 456.96,951.49 461.98,951.49 462.7,957.3 463.42,951.49 464.14,957.3 466.29,957.3 467.01,951.49 467.72,951.49 468.44,945.68 471.31,945.68 472.03,951.49 472.75,951.49 473.47,945.68 474.18,945.68 474.9,951.49 476.34,951.49 477.05,945.68 478.49,945.68 479.21,951.49 480.64,951.49 481.36,939.87 482.08,939.87 482.8,945.68 484.23,945.68 484.95,939.87 485.67,934.06 489.26,934.06 489.97,939.87 490.69,934.06 491.41,928.25 493.56,928.25 494.28,934.06 495,939.87 497.87,939.87 498.59,934.06 499.3,939.87 500.02,934.06 500.74,939.87 501.46,934.06 502.89,934.06 503.61,928.25 505.04,928.25 505.76,934.06 506.48,934.06 507.2,939.87 507.92,951.49 509.35,951.49 510.07,957.3 510.79,957.3 511.5,951.49 514.37,951.49 515.09,963.11 515.81,968.92 516.53,968.92 517.25,974.73 518.68,974.73 519.4,963.11 520.12,957.3 522.27,957.3 522.99,951.49 523.7,963.11 526.58,963.11 527.29,968.92 528.73,968.92 529.45,963.11 530.16,963.11 530.88,957.3 532.32,957.3 533.03,951.49 533.75,945.68 534.47,945.68 535.19,951.49 536.62,951.49 537.34,945.68 538.78,945.68 539.49,951.49 540.93,951.49 541.65,957.3 542.37,951.49 553.85,951.49 554.57,945.68 555.28,951.49 556,945.68 563.9,945.68 564.61,939.87 567.48,939.87 568.2,945.68 568.92,951.49 569.64,957.3 570.36,957.3 571.07,951.49 571.79,951.49 572.51,945.68 573.23,939.87 573.94,939.87 574.66,934.06 575.38,939.87 576.1,945.68 578.25,945.68 578.97,939.87 579.69,939.87 580.4,934.06 581.12,928.25 581.84,928.25 582.56,922.44 583.99,922.44 584.71,928.25 585.43,928.25 586.14,934.06 586.86,934.06 587.58,928.25 589.02,928.25 589.73,922.44 591.17,922.44 591.89,928.25 592.6,928.25 593.32,934.06 596.91,934.06 597.63,928.25 598.35,916.63 601.93,916.63 602.65,922.44 603.37,928.25 604.09,934.06 604.8,939.87 606.24,939.87 606.96,934.06 607.68,939.87 608.39,934.06 609.11,939.87 609.83,934.06 611.26,934.06 611.98,939.87 612.7,934.06 613.42,939.87 614.14,934.06 614.85,945.68 616.29,945.68 617.01,951.49 617.72,951.49 618.44,957.3 619.16,957.3 619.88,963.11 625.62,963.11 626.34,957.3 627.05,963.11 629.92,963.11 630.64,951.49 631.36,951.49 632.08,945.68 638.54,945.68 639.25,951.49 639.97,945.68 640.69,951.49 644.28,951.49 645,957.3 645.71,963.11 646.43,963.11 647.15,968.92 652.17,968.92 652.89,974.73 653.61,974.73 654.33,980.54 655.04,980.54 655.76,974.73 656.48,968.92 657.2,968.92 657.91,974.73 668.68,974.73 669.4,980.54 670.12,974.73 670.83,980.54 671.55,974.73 672.99,974.73 673.7,968.92 674.42,974.73 675.14,968.92 675.86,974.73 676.57,968.92 678.73,968.92 679.45,963.11 680.16,968.92 680.88,963.11 681.6,968.92 682.32,963.11 683.03,957.3 683.75,951.49 696.67,951.49 697.39,957.3 698.11,957.3 698.82,963.11 700.26,963.11 700.98,957.3 701.69,957.3 702.41,951.49 703.13,939.87 706.72,939.87 707.44,945.68 708.15,945.68 708.87,951.49 709.59,957.3 710.31,951.49 711.74,951.49 712.46,945.68 713.18,939.87 713.9,934.06 714.61,934.06 715.33,939.87 719.64,939.87 720.35,928.25 723.23,928.25 723.94,922.44 724.66,922.44 725.38,928.25 726.1,928.25 726.81,934.06 727.53,928.25 730.4,928.25 731.12,934.06 731.84,934.06 732.56,939.87 733.27,939.87 733.99,934.06 734.71,934.06 735.43,928.25 736.86,928.25 737.58,934.06 738.3,939.87 739.01,945.68 739.73,945.68 740.45,951.49 743.32,951.49 744.04,945.68 744.76,945.68 745.47,951.49 749.06,951.49 749.78,957.3 752.65,957.3 753.37,951.49 754.09,951.49 754.8,945.68 764.13,945.68 764.85,951.49 765.57,951.49 766.29,957.3 767.01,957.3 767.72,963.11 770.59,963.11 771.31,968.92 772.03,963.11 772.75,957.3 773.46,963.11 774.18,963.11 774.9,957.3 778.49,957.3 779.21,963.11 782.79,963.11 783.51,957.3 789.97,957.3 790.69,963.11 791.41,968.92 796.43,968.92 797.15,963.11 797.87,951.49 798.58,951.49 799.3,957.3 801.45,957.3 802.17,963.11 802.89,963.11 803.61,968.92 805.04,968.92 805.76,963.11 806.48,968.92 807.2,963.11 807.91,968.92 808.63,963.11 809.35,963.11 810.07,957.3 814.37,957.3 815.09,951.49 815.81,957.3 816.53,951.49 820.83,951.49 821.55,957.3 825.86,957.3 826.57,951.49 828.73,951.49 829.45,945.68 830.16,945.68 830.88,939.87 831.6,939.87 832.32,945.68 835.19,945.68 835.9,951.49 837.34,951.49 838.06,945.68 843.8,945.68 844.52,939.87 845.23,945.68 845.95,939.87 848.11,939.87 848.82,945.68 849.54,945.68 850.26,939.87 853.13,939.87 853.85,934.06 854.56,934.06 855.28,939.87 858.15,939.87 858.87,945.68 859.59,939.87 860.31,945.68 861.02,939.87 861.74,945.68 862.46,939.87 863.18,939.87 863.89,934.06 866.77,934.06 867.48,939.87 868.2,945.68 872.51,945.68 873.22,939.87 873.94,939.87 874.66,945.68 875.38,945.68 876.1,951.49 876.81,945.68 878.25,945.68 878.97,951.49 881.12,951.49 881.84,957.3 882.55,957.3 883.27,963.11 886.14,963.11 886.86,957.3 887.58,957.3 888.3,951.49 895.47,951.49 896.19,945.68 896.91,939.87 897.63,945.68 899.06,945.68 899.78,939.87 902.65,939.87 903.37,945.68 904.09,945.68 904.8,939.87 905.52,934.06 906.24,934.06 906.96,939.87 907.67,939.87 908.39,945.68 909.11,945.68 909.83,951.49 912.7,951.49 913.42,945.68 914.13,945.68 914.85,939.87 915.57,934.06 919.88,934.06 920.59,939.87 921.31,939.87 922.03,945.68 924.18,945.68 924.9,951.49 925.62,951.49 926.33,957.3 927.77,957.3 928.49,951.49 932.79,951.49 933.51,957.3 934.95,957.3 935.66,963.11 937.82,963.11 938.54,957.3 939.25,951.49 942.84,951.49 943.56,945.68 944.28,945.68 944.99,951.49 947.87,951.49 948.58,945.68 952.89,945.68 953.61,951.49 957.91,951.49 958.63,957.3 959.35,951.49 960.78,951.49 961.5,957.3 962.22,957.3 962.94,951.49 965.09,951.49 965.81,957.3 966.53,957.3 967.24,951.49 967.96,951.49 968.68,945.68 969.4,945.68 970.11,951.49 972.99,951.49 973.7,945.68 981.6,945.68 982.32,939.87 983.03,945.68 983.75,945.68 984.47,951.49 990.21,951.49 990.93,957.3 991.65,951.49 992.36,957.3 993.08,951.49 993.8,957.3 997.39,957.3 998.1,963.11 998.82,951.49 1003.13,951.49 1003.85,957.3 1004.56,957.3 1005.28,951.49 1006.72,951.49 1007.43,945.68 1008.15,939.87 1009.59,939.87 1010.31,945.68 1011.02,945.68 1011.74,939.87 1012.46,934.06 1015.33,934.06 1016.05,928.25 1016.76,928.25 1017.48,934.06 1018.92,934.06 1019.64,928.25 1020.35,928.25 1021.07,934.06 1021.79,934.06 1022.51,928.25 1025.38,928.25 1026.09,939.87 1029.68,939.87 1030.4,945.68 1031.12,939.87 1031.84,945.68 1032.55,945.68 1033.27,951.49 1035.42,951.49 1036.14,957.3 1036.86,951.49 1037.58,957.3 1038.3,957.3 1039.01,963.11 1041.88,963.11 1042.6,951.49 1043.32,957.3 1044.04,963.11 1048.34,963.11 1049.06,968.92 1049.78,968.92 1050.5,963.11 1051.21,957.3 1053.37,957.3 1054.09,951.49 1054.8,957.3 1055.52,951.49 1056.24,957.3 1056.96,951.49 1059.11,951.49 1059.83,957.3 1064.85,957.3 1065.57,945.68 1066.29,939.87 1069.16,939.87 1069.87,945.68 1070.59,945.68 1071.31,951.49 1072.75,951.49 1073.46,945.68 1074.9,945.68 1075.62,939.87 1077.05,939.87 1077.77,945.68 1078.49,939.87 1079.2,945.68 1079.92,939.87 1080.64,945.68 1081.36,951.49 1082.08,957.3 1082.79,957.3 1083.51,951.49 1084.95,951.49 1085.66,945.68 1090.69,945.68 1091.41,951.49 1092.84,951.49 1093.56,945.68 1094.28,951.49 1094.99,945.68 1095.71,951.49 1096.43,945.68 1097.15,945.68 1097.86,939.87 1103.61,939.87 1104.32,945.68 1105.04,939.87 1105.76,945.68 1106.48,945.68 1107.19,951.49 1114.37,951.49 1115.09,957.3 1115.81,951.49 1120.83,951.49 1121.55,945.68 1125.86,945.68 1126.57,939.87 1127.29,939.87 1128.01,945.68 1128.73,945.68 1129.44,939.87 1130.16,939.87 1130.88,945.68 1135.19,945.68 1135.9,939.87 1136.62,939.87 1137.34,945.68 1138.77,945.68 1139.49,939.87 1140.21,939.87 1140.93,945.68 1143.08,945.68 1143.8,951.49 1144.52,945.68 1145.23,951.49 1146.67,951.49 1147.39,945.68 1150.26,945.68 1150.97,951.49 1157.43,951.49 1158.15,957.3 1158.87,963.11 1161.74,963.11 1162.46,968.92 1163.89,968.92 1164.61,963.11 1165.33,957.3 1168.2,957.3 1168.92,963.11 1169.63,957.3 1170.35,951.49 1173.94,951.49 1174.66,957.3 1175.38,957.3 1176.09,963.11 1176.81,963.11 1177.53,957.3 1179.68,957.3 1180.4,963.11 1181.84,963.11 1182.55,957.3 1183.27,963.11 1183.99,957.3 1186.14,957.3 1186.86,951.49 1192.6,951.49 1193.32,963.11 1197.63,963.11 1198.34,957.3 1199.78,957.3 1200.5,951.49 1201.21,957.3 1201.93,951.49 1204.8,951.49 1205.52,945.68 1206.24,945.68 1206.96,951.49 1207.67,951.49 1208.39,957.3 1212.7,957.3 1213.41,963.11 1214.85,963.11 1215.57,957.3 1216.29,963.11 1217,957.3 1217.72,957.3 1218.44,951.49 1219.16,951.49 1219.87,957.3 1220.59,957.3 1221.31,951.49 1224.18,951.49 1224.9,957.3 1226.33,957.3 1227.05,963.11 1227.77,963.11 1228.49,957.3 1231.36,957.3 1232.07,951.49 1232.79,957.3 1233.51,951.49 1234.95,951.49 1235.66,945.68 1236.38,951.49 1237.1,945.68 1240.69,945.68 1241.4,951.49 1242.12,945.68 1242.84,951.49 1244.99,951.49 1245.71,945.68 1249.3,945.68 1250.02,939.87 1251.45,939.87 1252.17,934.06 1256.48,934.06 1257.19,939.87 1257.91,934.06 1258.63,939.87 1259.35,934.06 1260.07,939.87 1263.65,939.87 1264.37,945.68 1265.09,939.87 1265.81,945.68 1266.52,945.68 1267.24,957.3 1267.96,957.3 1268.68,951.49 1269.4,951.49 1270.11,945.68 1270.83,945.68 1271.55,951.49 1274.42,951.49 1275.14,957.3 1275.85,951.49 1276.57,957.3 1278.73,957.3 1279.44,963.11 1281.6,963.11 1282.31,957.3 1283.03,963.11 1283.75,957.3 1284.47,957.3 1285.18,951.49 1288.77,951.49 1289.49,945.68 1290.21,945.68 1290.93,951.49 1291.64,957.3 1293.8,957.3 1294.51,951.49 1295.23,951.49 1295.95,945.68 1298.1,945.68 1298.82,939.87 1301.69,939.87 1302.41,945.68 1305.28,945.68 1306,951.49 1306.72,945.68 1307.43,951.49 1308.87,951.49 1309.59,945.68 1314.61,945.68 1315.33,951.49 1316.05,951.49 1316.76,945.68 1317.48,939.87 1321.07,939.87 1321.79,945.68 1323.94,945.68 1324.66,951.49 1328.25,951.49 1328.96,945.68 1329.68,939.87 1330.4,934.06 1333.27,934.06 1333.99,928.25 1334.71,934.06 1335.42,928.25 1336.14,934.06 1336.86,928.25 1340.45,928.25 1341.17,939.87 1344.75,939.87 1345.47,945.68 1346.19,951.49 1346.91,945.68 1348.34,945.68 1349.06,951.49 1349.78,951.49 1350.5,957.3 1351.21,957.3 1351.93,951.49 1354.8,951.49 1355.52,957.3 1356.24,963.11 1356.95,968.92 1357.67,963.11 1358.39,963.11 1359.11,957.3 1359.83,963.11 1360.54,963.11 1361.26,968.92 1363.41,968.92 1364.13,957.3 1369.16,957.3 1369.87,951.49 1372.74,951.49 1373.46,945.68 1377.05,945.68 1377.77,951.49 1378.49,951.49 1379.2,957.3 1382.79,957.3 1383.51,951.49 1387.1,951.49 1387.82,945.68 1388.53,951.49 1389.25,957.3 1392.84,957.3 1393.56,951.49 1394.27,951.49 1394.99,945.68 1400.02,945.68 1400.73,951.49 1401.45,945.68 1402.17,951.49 1403.61,951.49 1404.32,945.68 1405.04,945.68 1405.76,951.49 1407.19,951.49 1407.91,957.3 1408.63,957.3 1409.35,951.49 1413.65,951.49 1414.37,945.68 1415.81,945.68 1416.52,939.87 1417.24,939.87 1417.96,934.06 1423.7,934.06 1424.42,939.87 1425.14,939.87 1425.85,934.06 1429.44,934.06 1430.16,939.87 1431.6,939.87 1432.31,951.49 1433.03,951.49 1433.75,957.3 1434.47,957.3 1435.18,951.49 1438.05,951.49 1438.77,945.68 1441.64,945.68 1442.36,939.87 1443.08,939.87 1443.8,934.06 1444.51,928.25 1447.38,928.25 1448.1,934.06 1456.71,934.06 1457.43,939.87 1458.15,939.87 1458.87,934.06 1462.46,934.06 1463.17,928.25 1463.89,928.25 1464.61,934.06 1465.33,934.06 1466.04,939.87 1468.92,939.87 1469.63,945.68 1475.38,945.68 1476.09,951.49 1476.81,951.49 1477.53,945.68 1478.25,951.49 1478.96,957.3 1479.68,963.11 1481.83,963.11 1482.55,968.92 1483.27,963.11 1483.99,968.92 1484.71,963.11 1485.42,968.92 1486.14,968.92 1486.86,963.11 1487.58,963.11 1488.29,968.92 1491.88,968.92 1492.6,963.11 1493.32,951.49 1494.04,945.68 1497.62,945.68 1498.34,939.87 1499.06,939.87 1499.78,945.68 1500.49,951.49 1501.21,957.3 1504.8,957.3 1505.52,951.49 1506.24,957.3 1506.95,963.11 1507.67,957.3 1508.39,951.49 1509.11,945.68 1511.98,945.68 1512.7,951.49 1513.41,951.49 1514.13,957.3 1515.57,957.3 1516.28,951.49 1520.59,951.49 1521.31,945.68 1522.03,945.68 1522.74,939.87 1523.46,939.87 1524.18,934.06 1529.2,934.06 1529.92,939.87 1530.64,951.49 1531.36,951.49 1532.07,945.68 1532.79,945.68 1533.51,951.49 1537.1,951.49 1537.81,957.3 1538.53,945.68 1540.69,945.68 1541.4,951.49 1548.58,951.49 1549.3,945.68 1555.76,945.68 1556.48,951.49 1564.37,951.49 1565.09,957.3 1565.81,957.3 1566.52,963.11 1567.96,963.11 1568.68,957.3 1569.39,957.3 1570.11,963.11 1570.83,963.11 1571.55,957.3 1572.26,957.3 1572.98,951.49 1577.29,951.49 1578.01,957.3 1578.72,957.3 1579.44,951.49 1580.16,945.68 1582.31,945.68 1583.03,951.49 1583.75,951.49 1584.47,945.68 1593.08,945.68 1593.8,939.87 1594.51,945.68 1595.23,939.87 1595.95,945.68 1596.67,939.87 1597.38,934.06 1598.1,934.06 1598.82,928.25 1600.97,928.25 1601.69,934.06 1606,934.06 1606.71,939.87 1609.58,939.87 1610.3,934.06 1611.74,934.06 1612.46,939.87 1615.33,939.87 1616.04,945.68 1617.48,945.68 1618.2,951.49 1618.92,957.3 1622.5,957.3 1623.22,963.11 1624.66,963.11 1625.37,957.3 1626.09,957.3 1626.81,951.49 1631.12,951.49 1631.83,945.68 1633.27,945.68 1633.99,951.49 1634.7,951.49 1635.42,957.3 1636.14,951.49 1637.58,951.49 1638.29,945.68 1642.6,945.68 1643.32,939.87 1644.03,934.06 1644.75,939.87 1645.47,945.68 1649.06,945.68 1649.78,951.49 1650.49,957.3 1651.21,957.3 1651.93,963.11 1652.65,963.11 1653.36,968.92 1654.08,968.92 1654.8,963.11"/>
<polyline stroke="#ff00ff" points="219.4,855.85 220.12,861.66 220.84,861.66 221.55,867.47 222.27,861.66 222.99,861.66 223.71,855.85 224.42,850.04 225.86,850.04 226.58,855.85 227.29,855.85 228.01,861.66 229.45,861.66 230.17,855.85 231.6,855.85 232.32,861.66 233.04,861.66 233.75,855.85 234.47,855.85 235.19,850.04 235.91,850.04 236.62,855.85 239.5,855.85 240.21,861.66 240.93,850.04 245.95,850.04 246.67,844.23 247.39,850.04 248.11,844.23 248.83,844.23 249.54,838.42 251.7,838.42 252.41,832.61 253.13,838.42 253.85,832.61 260.31,832.61 261.03,826.8 261.74,832.61 262.46,826.8 263.18,826.8 263.9,832.61 264.62,838.42 265.33,838.42 266.05,844.23 266.77,844.23 267.49,838.42 268.2,838.42 268.92,832.61 269.64,832.61 270.36,826.8 271.07,832.61 272.51,832.61 273.23,826.8 273.95,820.99 274.66,832.61 275.38,826.8 276.1,826.8 276.82,820.99 277.53,820.99 278.25,826.8 278.97,820.99 279.69,815.18 281.84,815.18 282.56,809.37 286.86,809.37 287.58,803.56 288.3,809.37 289.02,803.56 289.73,809.37 290.45,803.56 292.61,803.56 293.32,809.37 294.04,803.56 294.76,803.56 295.48,797.75 296.19,797.75 296.91,791.94 297.63,786.13 298.35,780.32 299.06,780.32 299.78,774.51 301.22,774.51 301.94,768.7 302.65,762.89 303.37,762.89 304.09,757.08 304.81,751.27 305.52,745.46 306.24,739.65 306.96,733.84 307.68,728.03 308.39,722.22 309.11,716.41 309.83,704.79 310.55,693.17 311.27,687.36 311.98,675.74 312.7,669.93 313.42,664.12 314.14,658.31 314.85,640.88 315.57,629.26 316.29,611.83 317.01,594.4 317.72,582.78 318.44,571.16 319.16,559.54 319.88,542.11 320.6,530.49 321.31,518.87 322.03,507.25 322.75,489.82 323.47,472.39 324.18,454.96 324.9,437.53 325.62,420.1 326.34,402.67 327.06,385.24 327.77,373.62 328.49,356.19 329.21,338.76 329.93,327.14 330.64,309.71 331.36,292.28 332.08,274.85 332.8,257.42 333.51,251.61 334.23,239.99 334.95,228.37 335.67,216.75 336.39,210.94 337.1,205.13 337.82,199.32 339.97,199.32 340.69,205.13 341.41,205.13 342.13,210.94 342.84,216.75 344.28,216.75 345,222.56 345.72,228.37 346.43,239.99 347.15,245.8 347.87,245.8 348.59,269.04 349.3,292.28 350.02,309.71 350.74,321.33 351.46,338.76 352.17,356.19 352.89,367.81 353.61,385.24 354.33,396.86 355.05,414.29 355.76,431.72 356.48,443.34 357.2,460.77 357.92,472.39 358.63,489.82 359.35,501.44 360.07,518.87 360.79,536.3 361.5,547.92 362.22,565.35 362.94,582.78 363.66,594.4 364.38,606.02 365.09,617.64 365.81,629.26 366.53,640.88 367.25,652.5 367.96,664.12 368.68,669.93 369.4,681.55 370.12,687.36 370.83,693.17 371.55,698.98 372.27,710.6 372.99,716.41 373.71,722.22 374.42,733.84 375.14,739.65 375.86,757.08 376.58,757.08 377.29,762.89 379.45,762.89 380.16,768.7 380.88,774.51 381.6,780.32 382.32,786.13 383.04,791.94 383.75,797.75 384.47,803.56 385.19,809.37 385.91,809.37 386.62,815.18 388.78,815.18 389.49,826.8 390.21,826.8 390.93,832.61 392.37,832.61 393.08,826.8 393.8,820.99 394.52,826.8 395.24,832.61 395.95,832.61 396.67,838.42 397.39,838.42 398.11,844.23 398.83,850.04 402.41,850.04 403.13,844.23 410.31,844.23 411.03,850.04 411.74,855.85 412.46,855.85 413.18,850.04 414.61,850.04 415.33,844.23 416.05,844.23 416.77,850.04 417.49,855.85 418.2,855.85 418.92,850.04 419.64,850.04 420.36,855.85 421.07,855.85 421.79,861.66 422.51,861.66 423.23,867.47 423.94,867.47 424.66,873.28 425.38,873.28 426.1,867.47 426.82,861.66 427.53,855.85 428.25,850.04 428.97,855.85 429.69,861.66 430.4,861.66 431.12,867.47 433.27,867.47 433.99,861.66 435.43,861.66 436.15,855.85 436.86,855.85 437.58,861.66 438.3,867.47 439.02,873.28 441.89,873.28 442.6,867.47 444.04,867.47 444.76,873.28 445.48,873.28 446.19,879.09 451.93,879.09 452.65,873.28 454.09,873.28 454.81,879.09 455.52,873.28 456.96,873.28 457.68,867.47 459.83,867.47 460.55,861.66 462.7,861.66 463.42,855.85 464.85,855.85 465.57,861.66 466.29,861.66 467.01,867.47 468.44,867.47 469.16,873.28 469.88,873.28 470.6,867.47 471.31,867.47 472.03,879.09 472.75,873.28 473.47,867.47 474.18,867.47 474.9,873.28 476.34,873.28 477.05,879.09 477.77,879.09 478.49,884.9 479.21,884.9 479.93,890.71 481.36,890.71 482.08,884.9 483.51,884.9 484.23,879.09 484.95,879.09 485.67,873.28 487.1,873.28 487.82,867.47 488.54,873.28 489.26,867.47 489.97,873.28 490.69,867.47 491.41,861.66 498.59,861.66 499.3,867.47 500.02,867.47 500.74,873.28 501.46,873.28 502.17,867.47 507.92,867.47 508.63,873.28 509.35,873.28 510.07,867.47 510.79,861.66 511.5,855.85 513.66,855.85 514.37,861.66 515.09,855.85 515.81,855.85 516.53,850.04 520.83,850.04 521.55,861.66 523.7,861.66 524.42,855.85 525.14,850.04 526.58,850.04 527.29,844.23 529.45,844.23 530.16,850.04 530.88,850.04 531.6,855.85 532.32,855.85 533.03,850.04 533.75,844.23 535.19,844.23 535.91,838.42 538.06,838.42 538.78,832.61 539.49,826.8 543.8,826.8 544.52,832.61 545.24,820.99 545.95,815.18 548.82,815.18 549.54,820.99 550.26,820.99 550.98,826.8 551.7,826.8 552.41,820.99 553.85,820.99 554.57,815.18 555.28,815.18 556,820.99 556.72,815.18 557.44,809.37 558.15,815.18 558.87,820.99 559.59,820.99 560.31,815.18 561.03,815.18 561.74,809.37 562.46,809.37 563.18,803.56 563.9,803.56 564.61,797.75 565.33,791.94 566.05,786.13 566.77,786.13 567.48,791.94 569.64,791.94 570.36,786.13 571.07,786.13 571.79,780.32 572.51,774.51 573.23,774.51 573.94,768.7 574.66,768.7 575.38,774.51 576.81,774.51 577.53,768.7 578.25,768.7 578.97,774.51 579.69,774.51 580.4,768.7 581.12,762.89 581.84,762.89 582.56,757.08 583.99,757.08 584.71,762.89 586.86,762.89 587.58,774.51 588.3,780.32 591.89,780.32 592.6,774.51 594.04,774.51 594.76,768.7 596.19,768.7 596.91,762.89 597.63,762.89 598.35,768.7 599.06,768.7 599.78,774.51 601.22,774.51 601.93,768.7 602.65,774.51 603.37,768.7 609.83,768.7 610.55,762.89 611.26,768.7 611.98,768.7 612.7,762.89 613.42,762.89 614.14,757.08 617.01,757.08 617.72,762.89 618.44,768.7 619.16,774.51 619.88,780.32 620.59,786.13 621.31,786.13 622.03,791.94 622.75,791.94 623.47,786.13 624.18,791.94 624.9,797.75 625.62,797.75 626.34,791.94 627.05,797.75 627.77,803.56 628.49,809.37 629.21,815.18 630.64,815.18 631.36,820.99 632.08,826.8 632.8,826.8 633.51,832.61 634.23,832.61 634.95,838.42 636.38,838.42 637.1,832.61 637.82,832.61 638.54,844.23 639.25,844.23 639.97,838.42 641.41,838.42 642.13,844.23 642.84,850.04 643.56,850.04 644.28,844.23 645,844.23 645.71,850.04 649.3,850.04 650.02,855.85 650.74,861.66 651.46,861.66 652.17,867.47 652.89,873.28 653.61,861.66 654.33,855.85 655.04,861.66 658.63,861.66 659.35,867.47 662.94,867.47 663.66,873.28 664.37,873.28 665.09,867.47 665.81,861.66 669.4,861.66 670.12,855.85 670.83,861.66 671.55,855.85 672.27,861.66 672.99,855.85 677.29,855.85 678.01,861.66 684.47,861.66 685.19,867.47 687.34,867.47 688.06,861.66 688.78,867.47 689.49,861.66 693.08,861.66 693.8,855.85 694.52,861.66 695.24,861.66 695.95,855.85 696.67,855.85 697.39,861.66 698.11,861.66 698.82,867.47 703.85,867.47 704.57,855.85 705.28,855.85 706,861.66 708.87,861.66 709.59,867.47 711.02,867.47 711.74,873.28 712.46,873.28 713.18,867.47 713.9,867.47 714.61,861.66 715.33,855.85 720.35,855.85 721.07,861.66 724.66,861.66 725.38,867.47 726.1,873.28 726.81,873.28 727.53,879.09 728.25,879.09 728.97,873.28 731.12,873.28 731.84,867.47 732.56,861.66 734.71,861.66 735.43,867.47 736.14,867.47 736.86,873.28 737.58,873.28 738.3,879.09 739.01,873.28 739.73,867.47 740.45,867.47 741.17,861.66 741.89,867.47 745.47,867.47 746.19,873.28 746.91,867.47 747.63,861.66 752.65,861.66 753.37,867.47 754.09,867.47 754.8,873.28 755.52,873.28 756.24,867.47 756.96,867.47 757.68,861.66 758.39,861.66 759.11,867.47 760.55,867.47 761.26,873.28 762.7,873.28 763.42,867.47 764.13,867.47 764.85,861.66 765.57,861.66 766.29,855.85 769.16,855.85 769.88,867.47 770.59,861.66 774.18,861.66 774.9,855.85 775.62,855.85 776.34,861.66 777.05,867.47 780.64,867.47 781.36,873.28 783.51,873.28 784.23,867.47 784.95,867.47 785.67,861.66 786.38,861.66 787.1,855.85 790.69,855.85 791.41,861.66 792.12,867.47 795,867.47 795.71,861.66 796.43,855.85 797.15,850.04 797.87,844.23 800.74,844.23 801.45,850.04 802.17,850.04 802.89,855.85 804.33,855.85 805.04,861.66 805.76,861.66 806.48,867.47 807.2,867.47 807.91,861.66 808.63,850.04 809.35,850.04 810.07,855.85 816.53,855.85 817.24,861.66 817.96,855.85 818.68,861.66 820.83,861.66 821.55,867.47 822.27,867.47 822.99,861.66 824.42,861.66 825.14,867.47 825.86,867.47 826.57,861.66 827.29,855.85 828.01,861.66 829.45,861.66 830.16,855.85 840.93,855.85 841.65,861.66 842.36,861.66 843.08,855.85 853.85,855.85 854.56,861.66 855.28,861.66 856,867.47 858.87,867.47 859.59,873.28 860.31,879.09 861.02,873.28 861.74,867.47 862.46,867.47 863.18,873.28 864.61,873.28 865.33,867.47 866.05,861.66 870.35,861.66 871.07,867.47 871.79,867.47 872.51,873.28 874.66,873.28 875.38,867.47 876.1,861.66 876.81,855.85 878.25,855.85 878.97,850.04 879.68,850.04 880.4,844.23 883.99,844.23 884.71,850.04 885.43,850.04 886.14,855.85 886.86,855.85 887.58,850.04 888.3,850.04 889.01,855.85 889.73,861.66 890.45,861.66 891.17,855.85 893.32,855.85 894.04,861.66 897.63,861.66 898.34,867.47 901.93,867.47 902.65,873.28 903.37,867.47 904.09,861.66 908.39,861.66 909.11,867.47 909.83,873.28 914.85,873.28 915.57,867.47 916.29,861.66 917,855.85 919.88,855.85 920.59,861.66 921.31,861.66 922.03,867.47 924.18,867.47 924.9,873.28 927.77,873.28 928.49,861.66 929.21,855.85 933.51,855.85 934.23,861.66 934.95,850.04 937.1,850.04 937.82,844.23 938.54,850.04 939.25,844.23 939.97,850.04 940.69,844.23 941.41,850.04 944.99,850.04 945.71,844.23 948.58,844.23 949.3,838.42 950.74,838.42 951.45,844.23 952.89,844.23 953.61,850.04 954.32,850.04 955.04,855.85 955.76,867.47 959.35,867.47 960.07,861.66 960.78,855.85 961.5,850.04 965.09,850.04 965.81,855.85 966.53,855.85 967.24,861.66 968.68,861.66 969.4,867.47 970.11,861.66 970.83,867.47 976.57,867.47 977.29,861.66 978.01,855.85 981.6,855.85 982.32,850.04 983.03,855.85 987.34,855.85 988.06,861.66 988.77,861.66 989.49,855.85 991.65,855.85 992.36,850.04 994.52,850.04 995.23,844.23 999.54,844.23 1000.26,850.04 1003.85,850.04 1004.56,855.85 1005.28,855.85 1006,861.66 1008.87,861.66 1009.59,867.47 1014.61,867.47 1015.33,861.66 1016.05,855.85 1016.76,855.85 1017.48,861.66 1018.2,861.66 1018.92,867.47 1021.79,867.47 1022.51,873.28 1023.94,873.28 1024.66,867.47 1025.38,873.28 1026.09,867.47 1026.81,873.28 1027.53,861.66 1028.25,861.66 1028.97,855.85 1029.68,855.85 1030.4,861.66 1031.84,861.66 1032.55,867.47 1033.27,867.47 1033.99,861.66 1035.42,861.66 1036.14,855.85 1038.3,855.85 1039.01,850.04 1039.73,850.04 1040.45,844.23 1041.17,844.23 1041.88,850.04 1044.04,850.04 1044.76,855.85 1045.47,850.04 1046.19,855.85 1049.78,855.85 1050.5,850.04 1051.21,844.23 1052.65,844.23 1053.37,850.04 1054.09,850.04 1054.8,844.23 1055.52,844.23 1056.24,850.04 1057.67,850.04 1058.39,855.85 1059.83,855.85 1060.54,850.04 1061.26,855.85 1061.98,850.04 1062.7,855.85 1063.42,850.04 1064.13,850.04 1064.85,844.23 1065.57,838.42 1067.72,838.42 1068.44,832.61 1069.16,832.61 1069.87,838.42 1071.31,838.42 1072.03,832.61 1072.75,838.42 1073.46,838.42 1074.18,844.23 1074.9,850.04 1075.62,850.04 1076.33,855.85 1077.05,861.66 1077.77,867.47 1078.49,867.47 1079.2,861.66 1079.92,861.66 1080.64,867.47 1081.36,867.47 1082.08,873.28 1082.79,867.47 1083.51,867.47 1084.23,873.28 1084.95,879.09 1085.66,867.47 1086.38,867.47 1087.1,873.28 1088.53,873.28 1089.25,867.47 1089.97,867.47 1090.69,873.28 1094.99,873.28 1095.71,867.47 1098.58,867.47 1099.3,861.66 1100.74,861.66 1101.45,855.85 1108.63,855.85 1109.35,861.66 1110.07,855.85 1110.78,855.85 1111.5,861.66 1116.53,861.66 1117.24,867.47 1118.68,867.47 1119.4,861.66 1120.11,861.66 1120.83,855.85 1123.7,855.85 1124.42,850.04 1125.14,850.04 1125.86,855.85 1126.57,861.66 1129.44,861.66 1130.16,867.47 1130.88,873.28 1131.6,873.28 1132.31,867.47 1133.75,867.47 1134.47,861.66 1136.62,861.66 1137.34,855.85 1138.06,855.85 1138.77,850.04 1139.49,850.04 1140.21,855.85 1140.93,855.85 1141.64,850.04 1142.36,850.04 1143.08,855.85 1146.67,855.85 1147.39,850.04 1148.1,844.23 1148.82,850.04 1149.54,850.04 1150.26,844.23 1151.69,844.23 1152.41,838.42 1153.13,838.42 1153.85,844.23 1156.72,844.23 1157.43,850.04 1158.15,855.85 1159.59,855.85 1160.3,850.04 1161.74,850.04 1162.46,855.85 1163.18,855.85 1163.89,850.04 1166.76,850.04 1167.48,844.23 1171.79,844.23 1172.51,850.04 1173.22,855.85 1175.38,855.85 1176.09,861.66 1176.81,855.85 1177.53,861.66 1181.12,861.66 1181.84,867.47 1182.55,873.28 1184.71,873.28 1185.42,867.47 1186.86,867.47 1187.58,873.28 1190.45,873.28 1191.17,867.47 1191.88,873.28 1192.6,867.47 1193.32,873.28 1194.04,867.47 1200.5,867.47 1201.21,861.66 1201.93,867.47 1202.65,861.66 1203.37,867.47 1204.08,861.66 1205.52,861.66 1206.24,867.47 1206.96,873.28 1213.41,873.28 1214.13,867.47 1218.44,867.47 1219.16,861.66 1219.87,861.66 1220.59,855.85 1227.05,855.85 1227.77,861.66 1228.49,855.85 1229.2,861.66 1229.92,861.66 1230.64,867.47 1234.23,867.47 1234.95,861.66 1235.66,861.66 1236.38,855.85 1240.69,855.85 1241.4,861.66 1242.12,861.66 1242.84,867.47 1243.56,867.47 1244.28,861.66 1246.43,861.66 1247.15,855.85 1248.58,855.85 1249.3,850.04 1250.73,850.04 1251.45,855.85 1252.17,855.85 1252.89,850.04 1261.5,850.04 1262.22,855.85 1262.94,861.66 1264.37,861.66 1265.09,867.47 1265.81,861.66 1266.52,867.47 1267.96,867.47 1268.68,861.66 1275.14,861.66 1275.85,867.47 1276.57,861.66 1277.29,867.47 1278.01,867.47 1278.73,873.28 1279.44,867.47 1283.03,867.47 1283.75,861.66 1287.34,861.66 1288.06,867.47 1288.77,861.66 1289.49,861.66 1290.21,867.47 1290.93,867.47 1291.64,873.28 1293.8,873.28 1294.51,867.47 1295.23,861.66 1295.95,867.47 1296.67,873.28 1297.39,867.47 1301.69,867.47 1302.41,873.28 1303.13,873.28 1303.84,867.47 1306,867.47 1306.72,873.28 1307.43,873.28 1308.15,867.47 1310.3,867.47 1311.02,861.66 1311.74,861.66 1312.46,867.47 1313.17,867.47 1313.89,873.28 1314.61,873.28 1315.33,879.09 1320.35,879.09 1321.07,873.28 1323.22,873.28 1323.94,867.47 1324.66,873.28 1325.38,867.47 1328.25,867.47 1328.96,873.28 1329.68,879.09 1332.55,879.09 1333.27,884.9 1333.99,884.9 1334.71,879.09 1346.91,879.09 1347.62,884.9 1348.34,879.09 1349.06,884.9 1349.78,879.09 1350.5,884.9 1353.37,884.9 1354.08,879.09 1355.52,879.09 1356.24,873.28 1357.67,873.28 1358.39,867.47 1359.11,873.28 1359.83,867.47 1362.7,867.47 1363.41,873.28 1365.57,873.28 1366.28,867.47 1369.16,867.47 1369.87,861.66 1370.59,867.47 1374.18,867.47 1374.9,855.85 1375.61,861.66 1376.33,867.47 1377.05,861.66 1377.77,855.85 1380.64,855.85 1381.36,861.66 1382.07,855.85 1382.79,861.66 1384.94,861.66 1385.66,867.47 1386.38,861.66 1387.1,867.47 1388.53,867.47 1389.25,873.28 1392.12,873.28 1392.84,867.47 1393.56,861.66 1394.27,861.66 1394.99,867.47 1400.02,867.47 1400.73,873.28 1401.45,867.47 1402.17,861.66 1402.89,861.66 1403.61,855.85 1407.19,855.85 1407.91,861.66 1408.63,850.04 1409.35,850.04 1410.06,855.85 1412.22,855.85 1412.94,850.04 1413.65,844.23 1415.81,844.23 1416.52,850.04 1417.24,855.85 1417.96,850.04 1420.11,850.04 1420.83,855.85 1421.55,861.66 1422.27,867.47 1425.14,867.47 1425.85,861.66 1426.57,855.85 1427.29,861.66 1428.01,861.66 1428.72,855.85 1429.44,855.85 1430.16,850.04 1430.88,855.85 1431.6,861.66 1433.03,861.66 1433.75,855.85 1434.47,861.66 1435.18,855.85 1438.77,855.85 1439.49,850.04 1440.21,855.85 1443.08,855.85 1443.8,850.04 1444.51,850.04 1445.23,844.23 1446.67,844.23 1447.38,850.04 1448.1,850.04 1448.82,838.42 1452.41,838.42 1453.13,832.61 1453.84,826.8 1456.71,826.8 1457.43,832.61 1458.15,826.8 1461.02,826.8 1461.74,832.61 1464.61,832.61 1465.33,838.42 1466.04,844.23 1466.76,850.04 1467.48,850.04 1468.2,844.23 1468.92,844.23 1469.63,850.04 1471.79,850.04 1472.5,855.85 1473.22,855.85 1473.94,861.66 1480.4,861.66 1481.12,867.47 1482.55,867.47 1483.27,873.28 1483.99,867.47 1484.71,873.28 1485.42,867.47 1486.14,873.28 1488.29,873.28 1489.01,867.47 1490.45,867.47 1491.16,873.28 1495.47,873.28 1496.19,879.09 1496.91,879.09 1497.62,884.9 1499.78,884.9 1500.49,890.71 1501.21,890.71 1501.93,884.9 1504.08,884.9 1504.8,879.09 1510.54,879.09 1511.26,873.28 1511.98,879.09 1513.41,879.09 1514.13,884.9 1514.85,879.09 1515.57,884.9 1516.28,879.09 1517,884.9 1517.72,884.9 1518.44,890.71 1519.15,890.71 1519.87,884.9 1520.59,884.9 1521.31,879.09 1523.46,879.09 1524.18,873.28 1524.9,873.28 1525.61,867.47 1526.33,861.66 1534.94,861.66 1535.66,867.47 1537.81,867.47 1538.53,873.28 1539.25,873.28 1539.97,867.47 1542.84,867.47 1543.56,861.66 1544.27,855.85 1548.58,855.85 1549.3,861.66 1550.02,855.85 1550.73,861.66 1552.17,861.66 1552.89,867.47 1553.6,867.47 1554.32,873.28 1556.48,873.28 1557.19,867.47 1557.91,861.66 1561.5,861.66 1562.22,867.47 1565.81,867.47 1566.52,861.66 1567.96,861.66 1568.68,867.47 1569.39,873.28 1570.11,867.47 1572.26,867.47 1572.98,873.28 1576.57,873.28 1577.29,867.47 1578.01,867.47 1578.72,861.66 1588.77,861.66 1589.49,867.47 1590.21,861.66 1590.92,867.47 1591.64,861.66 1592.36,867.47 1593.08,873.28 1595.23,873.28 1595.95,867.47 1596.67,867.47 1597.38,861.66 1600.25,861.66 1600.97,867.47 1601.69,861.66 1602.41,867.47 1603.13,861.66 1603.84,867.47 1604.56,867.47 1605.28,873.28 1606,873.28 1606.71,879.09 1607.43,879.09 1608.15,884.9 1608.87,879.09 1609.58,873.28 1610.3,873.28 1611.02,879.09 1611.74,879.09 1612.46,873.28 1613.89,873.28 1614.61,879.09 1615.33,873.28 1616.04,879.09 1616.76,873.28 1617.48,879.09 1621.79,879.09 1622.5,873.28 1623.22,867.47 1623.94,861.66 1628.96,861.66 1629.68,867.47 1631.12,867.47 1631.83,873.28 1632.55,873.28 1633.27,867.47 1636.14,867.47 1636.86,861.66 1637.58,867.47 1638.29,861.66 1644.75,861.66 1645.47,855.85 1646.19,855.85 1646.91,861.66 1647.62,861.66 1648.34,855.85 1649.06,850.04 1649.78,844.23 1650.49,844.23 1651.21,838.42 1651.93,838.42 1652.65,832.61 1653.36,826.8 1654.08,820.99 1654.8,820.99"/>
<polyline stroke="#008000" points="219.4,753.62 220.84,753.62 221.55,759.43 222.27,765.24 224.42,765.24 225.14,759.43 225.86,759.43 226.58,765.24 228.01,765.24 228.73,771.05 229.45,771.05 230.17,765.24 230.88,759.43 231.6,759.43 232.32,765.24 233.75,765.24 234.47,759.43 235.19,759.43 235.91,765.24 236.62,753.62 237.34,747.81 240.93,747.81 241.65,753.62 242.37,753.62 243.08,747.81 243.8,747.81 244.52,753.62 245.95,753.62 246.67,747.81 247.39,747.81 248.11,742 250.98,742 251.7,747.81 252.41,753.62 253.13,759.43 253.85,759.43 254.57,753.62 255.29,753.62 256,747.81 257.44,747.81 258.16,753.62 259.59,753.62 260.31,747.81 261.03,753.62 261.74,747.81 262.46,753.62 263.18,747.81 264.62,747.81 265.33,753.62 266.05,747.81 266.77,753.62 267.49,747.81 268.2,759.43 268.92,765.24 269.64,765.24 270.36,759.43 271.07,759.43 271.79,753.62 272.51,753.62 273.23,759.43 273.95,759.43 274.66,765.24 275.38,765.24 276.1,771.05 276.82,771.05 277.53,765.24 278.25,759.43 279.69,759.43 280.4,753.62 284.71,753.62 285.43,759.43 286.15,759.43 286.86,753.62 287.58,747.81 288.3,742 289.02,736.19 289.73,736.19 290.45,742 291.17,742 291.89,747.81 292.61,747.81 293.32,742 294.04,742 294.76,736.19 296.19,736.19 296.91,730.38 298.35,730.38 299.06,736.19 300.5,736.19 301.22,742 301.94,736.19 302.65,742 303.37,736.19 304.09,742 304.81,736.19 305.52,730.38 306.24,730.38 306.96,724.57 307.68,718.76 308.39,712.95 309.11,701.33 309.83,695.52 310.55,689.71 311.27,683.9 311.98,683.9 312.7,678.09 313.42,672.28 314.14,666.47 314.85,660.66 315.57,666.47 316.29,649.04 317.01,637.42 317.72,625.8 318.44,608.37 319.16,596.75 319.88,579.32 320.6,567.7 321.31,550.27 322.03,538.65 322.75,521.22 323.47,509.6 324.18,497.98 324.9,486.36 325.62,468.93 326.34,457.31 327.06,445.69 327.77,434.07 328.49,416.64 329.21,405.02 329.93,387.59 330.64,370.16 331.36,358.54 332.08,341.11 332.8,329.49 333.51,312.06 334.23,300.44 334.95,283.01 335.67,271.39 336.39,265.58 337.1,248.15 337.82,236.53 338.54,230.72 339.26,224.91 339.97,213.29 340.69,201.67 341.41,195.86 342.13,190.05 342.48,195.86 342.83,190.05 343.18,195.86 343.53,190.05 343.88,195.86 344.23,190.05 344.58,195.86 344.93,190.05 345.28,195.86 345.63,190.05 345.98,195.86 346.33,190.05 346.68,195.86 346.6,190.05 346.43,195.86 347.15,201.67 347.87,207.48 348.59,213.29 349.3,213.29 350.02,224.91 350.74,230.72 351.46,242.34 352.17,259.77 352.89,283.01 353.61,294.63 354.33,312.06 355.05,323.68 355.76,335.3 356.48,352.73 357.2,364.35 357.92,381.78 358.63,393.4 359.35,405.02 360.07,422.45 360.79,434.07 361.5,445.69 362.22,463.12 362.94,480.55 363.66,492.17 364.38,509.6 365.09,521.22 365.81,538.65 366.53,550.27 367.25,567.7 367.96,579.32 368.68,596.75 369.4,608.37 370.12,619.99 370.83,631.61 371.55,643.23 372.27,654.85 372.99,660.66 373.71,672.28 374.42,678.09 375.14,683.9 375.86,689.71 376.58,695.52 377.29,695.52 378.01,701.33 378.73,707.14 379.45,718.76 380.16,712.95 380.88,712.95 381.6,718.76 382.32,724.57 383.75,724.57 384.47,730.38 388.06,730.38 388.78,736.19 389.49,730.38 390.21,736.19 390.93,730.38 391.65,736.19 392.37,742 393.08,742 393.8,747.81 394.52,753.62 397.39,753.62 398.11,747.81 398.83,753.62 399.54,747.81 400.98,747.81 401.7,753.62 402.41,759.43 403.13,765.24 407.44,765.24 408.16,759.43 408.87,759.43 409.59,765.24 413.18,765.24 413.9,759.43 416.05,759.43 416.77,753.62 421.79,753.62 422.51,747.81 423.23,742 423.94,747.81 424.66,747.81 425.38,753.62 426.1,753.62 426.82,747.81 427.53,747.81 428.25,753.62 428.97,759.43 429.69,747.81 430.4,742 433.99,742 434.71,747.81 435.43,747.81 436.15,753.62 436.86,753.62 437.58,747.81 439.02,747.81 439.73,742 441.89,742 442.6,736.19 443.32,736.19 444.04,742 444.76,747.81 445.48,753.62 446.19,759.43 446.91,765.24 447.63,759.43 448.35,759.43 449.06,753.62 449.78,747.81 450.5,742 451.22,742 451.93,747.81 452.65,747.81 453.37,753.62 454.09,753.62 454.81,759.43 456.24,759.43 456.96,753.62 457.68,747.81 459.11,747.81 459.83,753.62 460.55,753.62 461.26,747.81 461.98,747.81 462.7,742 465.57,742 466.29,747.81 467.01,747.81 467.72,753.62 469.16,753.62 469.88,747.81 470.6,753.62 471.31,747.81 472.03,753.62 472.75,747.81 474.18,747.81 474.9,742 478.49,742 479.21,747.81 479.93,742 480.64,736.19 484.23,736.19 484.95,730.38 486.38,730.38 487.1,724.57 488.54,724.57 489.26,730.38 489.97,724.57 490.69,730.38 491.41,724.57 492.13,730.38 492.84,730.38 493.56,724.57 498.59,724.57 499.3,730.38 500.02,730.38 500.74,736.19 502.17,736.19 502.89,742 503.61,742 504.33,747.81 505.04,742 505.76,747.81 509.35,747.81 510.07,742 510.79,742 511.5,736.19 512.22,736.19 512.94,730.38 513.66,730.38 514.37,736.19 515.09,742 517.25,742 517.96,747.81 518.68,753.62 519.4,747.81 520.12,742 520.83,736.19 521.55,736.19 522.27,730.38 522.99,724.57 523.7,730.38 524.42,736.19 525.14,736.19 525.86,742 526.58,742 527.29,747.81 530.16,747.81 530.88,753.62 531.6,747.81 532.32,753.62 533.75,753.62 534.47,759.43 538.06,759.43 538.78,753.62 539.49,747.81 540.21,753.62 540.93,759.43 543.8,759.43 544.52,753.62 545.24,753.62 545.95,747.81 547.39,747.81 548.11,742 548.82,742 549.54,747.81 550.26,747.81 550.98,753.62 552.41,753.62 553.13,747.81 553.85,747.81 554.57,742 555.28,736.19 557.44,736.19 558.15,742 558.87,742 559.59,736.19 560.31,736.19 561.03,730.38 561.74,730.38 562.46,736.19 563.9,736.19 564.61,742 565.33,742 566.05,736.19 566.77,730.38 567.48,730.38 568.2,724.57 571.79,724.57 572.51,718.76 573.94,718.76 574.66,707.14 575.38,701.33 576.1,701.33 576.81,695.52 577.53,689.71 580.4,689.71 581.12,678.09 583.27,678.09 583.99,672.28 584.71,666.47 585.43,660.66 586.14,660.66 586.86,654.85 592.6,654.85 593.32,649.04 594.04,643.23 594.76,643.23 595.47,649.04 596.19,649.04 596.91,660.66 597.63,666.47 598.35,666.47 599.06,672.28 599.78,666.47 601.93,666.47 602.65,672.28 604.09,672.28 604.8,666.47 607.68,666.47 608.39,660.66 611.26,660.66 611.98,666.47 612.7,672.28 613.42,678.09 615.57,678.09 616.29,683.9 621.31,683.9 622.03,695.52 622.75,701.33 624.18,701.33 624.9,707.14 625.62,707.14 626.34,712.95 628.49,712.95 629.21,724.57 632.8,724.57 633.51,730.38 634.23,736.19 634.95,730.38 635.67,730.38 636.38,736.19 637.82,736.19 638.54,730.38 639.97,730.38 640.69,736.19 641.41,736.19 642.13,730.38 642.84,730.38 643.56,736.19 645,736.19 645.71,742 646.43,742 647.15,747.81 647.87,753.62 649.3,753.62 650.02,747.81 650.74,753.62 651.46,747.81 652.89,747.81 653.61,753.62 654.33,759.43 655.04,759.43 655.76,765.24 659.35,765.24 660.07,759.43 662.94,759.43 663.66,765.24 665.81,765.24 666.53,759.43 667.24,753.62 667.96,759.43 670.12,759.43 670.83,753.62 673.7,753.62 674.42,747.81 677.29,747.81 678.01,753.62 678.73,747.81 685.19,747.81 685.91,753.62 686.62,747.81 687.34,753.62 688.06,747.81 688.78,759.43 689.49,759.43 690.21,765.24 693.08,765.24 693.8,759.43 694.52,765.24 699.54,765.24 700.26,759.43 700.98,759.43 701.69,753.62 702.41,753.62 703.13,747.81 707.44,747.81 708.15,753.62 708.87,753.62 709.59,747.81 710.31,747.81 711.02,753.62 712.46,753.62 713.18,747.81 713.9,753.62 714.61,747.81 717.48,747.81 718.2,753.62 719.64,753.62 720.35,759.43 722.51,759.43 723.23,765.24 723.94,765.24 724.66,759.43 727.53,759.43 728.25,765.24 738.3,765.24 739.01,759.43 739.73,759.43 740.45,765.24 743.32,765.24 744.04,759.43 744.76,753.62 745.47,753.62 746.19,747.81 747.63,747.81 748.34,742 749.06,742 749.78,747.81 750.5,747.81 751.22,753.62 751.93,759.43 753.37,759.43 754.09,753.62 754.8,753.62 755.52,747.81 758.39,747.81 759.11,753.62 759.83,747.81 761.26,747.81 761.98,753.62 762.7,753.62 763.42,747.81 764.13,747.81 764.85,753.62 765.57,753.62 766.29,747.81 774.18,747.81 774.9,753.62 779.21,753.62 779.92,759.43 780.64,765.24 782.79,765.24 783.51,771.05 784.23,771.05 784.95,776.86 785.67,776.86 786.38,782.67 787.1,776.86 787.82,771.05 792.84,771.05 793.56,776.86 794.28,771.05 795,776.86 795.71,776.86 796.43,771.05 798.58,771.05 799.3,765.24 800.02,759.43 805.04,759.43 805.76,765.24 806.48,759.43 810.07,759.43 810.78,765.24 811.5,765.24 812.22,771.05 815.81,771.05 816.53,776.86 822.27,776.86 822.99,771.05 823.7,776.86 824.42,771.05 830.16,771.05 830.88,765.24 831.6,765.24 832.32,771.05 833.03,771.05 833.75,765.24 835.19,765.24 835.9,771.05 836.62,771.05 837.34,765.24 838.06,759.43 840.21,759.43 840.93,753.62 841.65,747.81 842.36,753.62 843.08,759.43 843.8,765.24 847.39,765.24 848.11,759.43 848.82,753.62 853.85,753.62 854.56,759.43 855.28,759.43 856,765.24 857.44,765.24 858.15,759.43 858.87,759.43 859.59,753.62 861.74,753.62 862.46,759.43 863.89,759.43 864.61,765.24 865.33,765.24 866.05,771.05 866.77,771.05 867.48,776.86 868.2,771.05 868.92,765.24 871.07,765.24 871.79,759.43 872.51,759.43 873.22,765.24 878.97,765.24 879.68,759.43 880.4,759.43 881.12,753.62 881.84,753.62 882.55,759.43 883.27,759.43 883.99,753.62 889.01,753.62 889.73,759.43 893.32,759.43 894.04,765.24 894.76,765.24 895.47,759.43 901.22,759.43 901.93,765.24 902.65,759.43 903.37,765.24 904.09,765.24 904.8,759.43 905.52,753.62 909.83,753.62 910.55,759.43 911.98,759.43 912.7,765.24 914.13,765.24 914.85,759.43 915.57,759.43 916.29,753.62 920.59,753.62 921.31,759.43 922.03,759.43 922.75,765.24 923.46,765.24 924.18,759.43 927.05,759.43 927.77,753.62 928.49,747.81 929.21,753.62 930.64,753.62 931.36,747.81 933.51,747.81 934.23,759.43 936.38,759.43 937.1,753.62 937.82,759.43 938.54,753.62 939.25,759.43 939.97,753.62 940.69,753.62 941.41,759.43 942.12,765.24 944.28,765.24 944.99,771.05 945.71,771.05 946.43,776.86 947.15,771.05 947.87,765.24 950.02,765.24 950.74,759.43 951.45,765.24 952.17,759.43 953.61,759.43 954.32,765.24 955.04,771.05 956.48,771.05 957.2,765.24 957.91,759.43 958.63,759.43 959.35,753.62 960.07,747.81 960.78,742 965.81,742 966.53,753.62 967.24,759.43 967.96,759.43 968.68,753.62 970.11,753.62 970.83,747.81 971.55,747.81 972.27,742 974.42,742 975.14,747.81 975.86,747.81 976.57,753.62 977.29,753.62 978.01,759.43 979.44,759.43 980.16,753.62 980.88,747.81 983.03,747.81 983.75,736.19 984.47,736.19 985.19,742 985.9,742 986.62,747.81 987.34,747.81 988.06,753.62 988.77,753.62 989.49,759.43 992.36,759.43 993.08,753.62 995.23,753.62 995.95,747.81 996.67,742 997.39,742 998.1,747.81 998.82,753.62 999.54,753.62 1000.26,759.43 1002.41,759.43 1003.13,765.24 1003.85,759.43 1004.56,765.24 1007.43,765.24 1008.15,759.43 1008.87,753.62 1013.89,753.62 1014.61,759.43 1018.2,759.43 1018.92,753.62 1019.64,753.62 1020.35,747.81 1024.66,747.81 1025.38,753.62 1026.81,753.62 1027.53,759.43 1033.99,759.43 1034.71,753.62 1035.42,759.43 1036.14,753.62 1036.86,759.43 1037.58,753.62 1039.73,753.62 1040.45,759.43 1044.76,759.43 1045.47,753.62 1046.19,759.43 1048.34,759.43 1049.06,765.24 1049.78,759.43 1050.5,765.24 1051.21,759.43 1051.93,771.05 1052.65,765.24 1053.37,759.43 1054.09,753.62 1056.96,753.62 1057.67,759.43 1059.11,759.43 1059.83,765.24 1060.54,771.05 1064.13,771.05 1064.85,765.24 1067,765.24 1067.72,753.62 1073.46,753.62 1074.18,759.43 1075.62,759.43 1076.33,765.24 1077.05,759.43 1077.77,765.24 1078.49,759.43 1079.2,765.24 1079.92,765.24 1080.64,759.43 1081.36,765.24 1084.95,765.24 1085.66,759.43 1086.38,759.43 1087.1,753.62 1089.25,753.62 1089.97,759.43 1092.12,759.43 1092.84,765.24 1093.56,765.24 1094.28,771.05 1094.99,771.05 1095.71,765.24 1100.74,765.24 1101.45,759.43 1102.17,765.24 1102.89,759.43 1107.91,759.43 1108.63,753.62 1109.35,759.43 1110.78,759.43 1111.5,753.62 1112.94,753.62 1113.65,759.43 1115.09,759.43 1115.81,753.62 1117.24,753.62 1117.96,759.43 1119.4,759.43 1120.11,753.62 1120.83,759.43 1121.55,753.62 1122.27,753.62 1122.98,759.43 1123.7,765.24 1126.57,765.24 1127.29,759.43 1128.01,771.05 1129.44,771.05 1130.16,765.24 1130.88,759.43 1131.6,759.43 1132.31,765.24 1133.75,765.24 1134.47,771.05 1135.19,765.24 1135.9,759.43 1136.62,765.24 1137.34,771.05 1138.06,771.05 1138.77,765.24 1145.23,765.24 1145.95,759.43 1146.67,753.62 1150.26,753.62 1150.97,747.81 1151.69,747.81 1152.41,742 1153.13,747.81 1153.85,753.62 1158.15,753.62 1158.87,765.24 1159.59,765.24 1160.3,759.43 1164.61,759.43 1165.33,753.62 1167.48,753.62 1168.2,759.43 1170.35,759.43 1171.07,765.24 1171.79,771.05 1177.53,771.05 1178.25,776.86 1182.55,776.86 1183.27,771.05 1183.99,765.24 1185.42,765.24 1186.14,771.05 1186.86,771.05 1187.58,765.24 1188.3,765.24 1189.01,759.43 1189.73,759.43 1190.45,765.24 1191.17,765.24 1191.88,771.05 1192.6,765.24 1193.32,759.43 1194.04,759.43 1194.75,765.24 1195.47,765.24 1196.19,759.43 1196.91,753.62 1197.63,747.81 1203.37,747.81 1204.08,753.62 1204.8,759.43 1205.52,759.43 1206.24,765.24 1206.96,765.24 1207.67,759.43 1209.11,759.43 1209.83,753.62 1210.54,753.62 1211.26,747.81 1214.85,747.81 1215.57,753.62 1216.29,759.43 1218.44,759.43 1219.16,753.62 1223.46,753.62 1224.18,747.81 1224.9,742 1227.77,742 1228.49,747.81 1229.2,742 1229.92,747.81 1230.64,742 1231.36,747.81 1232.79,747.81 1233.51,753.62 1239.97,753.62 1240.69,747.81 1245.71,747.81 1246.43,742 1247.15,742 1247.86,736.19 1249.3,736.19 1250.02,742 1250.73,736.19 1251.45,742 1252.17,736.19 1252.89,742 1253.61,747.81 1256.48,747.81 1257.19,753.62 1259.35,753.62 1260.07,747.81 1260.78,753.62 1261.5,747.81 1265.09,747.81 1265.81,742 1266.52,747.81 1270.83,747.81 1271.55,753.62 1272.27,753.62 1272.98,747.81 1275.14,747.81 1275.85,742 1280.88,742 1281.6,747.81 1282.31,742 1283.03,747.81 1283.75,742 1284.47,747.81 1285.18,753.62 1288.77,753.62 1289.49,747.81 1290.21,747.81 1290.93,742 1293.08,742 1293.8,736.19 1294.51,736.19 1295.23,742 1297.39,742 1298.1,747.81 1306,747.81 1306.72,753.62 1307.43,753.62 1308.15,747.81 1308.87,742 1309.59,742 1310.3,736.19 1311.74,736.19 1312.46,742 1313.17,742 1313.89,747.81 1314.61,742 1316.05,742 1316.76,747.81 1319.63,747.81 1320.35,753.62 1321.07,759.43 1322.5,759.43 1323.22,753.62 1324.66,753.62 1325.38,747.81 1326.09,747.81 1326.81,753.62 1327.53,753.62 1328.25,759.43 1330.4,759.43 1331.12,765.24 1340.45,765.24 1341.17,759.43 1341.88,765.24 1342.6,759.43 1343.32,765.24 1344.04,759.43 1344.75,759.43 1345.47,753.62 1347.62,753.62 1348.34,759.43 1349.06,759.43 1349.78,753.62 1350.5,759.43 1351.21,765.24 1354.8,765.24 1355.52,759.43 1356.24,753.62 1359.11,753.62 1359.83,747.81 1362.7,747.81 1363.41,759.43 1364.13,759.43 1364.85,753.62 1365.57,753.62 1366.28,759.43 1367.72,759.43 1368.44,753.62 1369.16,753.62 1369.87,759.43 1370.59,759.43 1371.31,753.62 1372.74,753.62 1373.46,747.81 1374.18,747.81 1374.9,753.62 1375.61,753.62 1376.33,759.43 1377.77,759.43 1378.49,765.24 1379.2,765.24 1379.92,771.05 1380.64,771.05 1381.36,776.86 1385.66,776.86 1386.38,771.05 1387.1,765.24 1390.69,765.24 1391.4,759.43 1392.84,759.43 1393.56,753.62 1394.27,759.43 1394.99,753.62 1396.43,753.62 1397.15,747.81 1400.73,747.81 1401.45,753.62 1402.17,747.81 1407.19,747.81 1407.91,742 1410.06,742 1410.78,736.19 1411.5,742 1412.22,736.19 1415.09,736.19 1415.81,742 1416.52,742 1417.24,736.19 1418.68,736.19 1419.39,742 1420.11,742 1420.83,747.81 1421.55,747.81 1422.27,742 1424.42,742 1425.14,736.19 1425.85,730.38 1426.57,724.57 1427.29,724.57 1428.01,718.76 1428.72,718.76 1429.44,712.95 1430.16,712.95 1430.88,707.14 1432.31,707.14 1433.03,712.95 1434.47,712.95 1435.18,707.14 1436.62,707.14 1437.34,712.95 1438.05,712.95 1438.77,707.14 1439.49,707.14 1440.21,701.33 1442.36,701.33 1443.08,695.52 1443.8,695.52 1444.51,701.33 1445.23,701.33 1445.95,695.52 1446.67,689.71 1447.38,689.71 1448.1,695.52 1450.26,695.52 1450.97,701.33 1451.69,707.14 1453.13,707.14 1453.84,712.95 1456,712.95 1456.71,718.76 1457.43,718.76 1458.15,712.95 1464.61,712.95 1465.33,718.76 1468.2,718.76 1468.92,724.57 1469.63,724.57 1470.35,730.38 1474.66,730.38 1475.38,736.19 1476.09,736.19 1476.81,730.38 1477.53,730.38 1478.25,736.19 1481.83,736.19 1482.55,742 1483.27,742 1483.99,747.81 1484.71,742 1485.42,742 1486.14,747.81 1491.16,747.81 1491.88,753.62 1494.75,753.62 1495.47,747.81 1496.19,747.81 1496.91,742 1497.62,742 1498.34,747.81 1504.8,747.81 1505.52,759.43 1509.82,759.43 1510.54,753.62 1511.26,759.43 1517.72,759.43 1518.44,753.62 1520.59,753.62 1521.31,747.81 1522.03,747.81 1522.74,742 1529.92,742 1530.64,753.62 1531.36,753.62 1532.07,747.81 1532.79,747.81 1533.51,753.62 1534.94,753.62 1535.66,747.81 1536.38,753.62 1537.1,747.81 1537.81,747.81 1538.53,753.62 1539.97,753.62 1540.69,747.81 1542.12,747.81 1542.84,753.62 1544.27,753.62 1544.99,747.81 1546.43,747.81 1547.15,753.62 1548.58,753.62 1549.3,747.81 1550.73,747.81 1551.45,753.62 1552.17,753.62 1552.89,747.81 1559.35,747.81 1560.06,742 1560.78,742 1561.5,747.81 1565.81,747.81 1566.52,753.62 1567.24,747.81 1567.96,753.62 1569.39,753.62 1570.11,759.43 1570.83,765.24 1572.26,765.24 1572.98,771.05 1573.7,765.24 1574.42,771.05 1575.14,765.24 1575.85,771.05 1578.01,771.05 1578.72,765.24 1580.16,765.24 1580.88,759.43 1583.03,759.43 1583.75,765.24 1584.47,765.24 1585.18,759.43 1585.9,759.43 1586.62,753.62 1588.05,753.62 1588.77,747.81 1589.49,753.62 1590.21,747.81 1594.51,747.81 1595.23,742 1595.95,742 1596.67,747.81 1597.38,747.81 1598.1,742 1598.82,747.81 1601.69,747.81 1602.41,753.62 1603.13,759.43 1603.84,759.43 1604.56,765.24 1605.28,765.24 1606,759.43 1606.71,753.62 1607.43,753.62 1608.15,759.43 1608.87,759.43 1609.58,753.62 1610.3,753.62 1611.02,759.43 1611.74,765.24 1612.46,759.43 1613.89,759.43 1614.61,765.24 1615.33,759.43 1616.04,765.24 1616.76,765.24 1617.48,759.43 1618.2,753.62 1621.07,753.62 1621.79,747.81 1624.66,747.81 1625.37,753.62 1626.09,753.62 1626.81,747.81 1627.53,747.81 1628.25,742 1628.96,742 1629.68,747.81 1630.4,747.81 1631.12,742 1634.7,742 1635.42,747.81 1636.14,747.81 1636.86,753.62 1637.58,753.62 1638.29,747.81 1639.01,747.81 1639.73,753.62 1644.03,753.62 1644.75,759.43 1645.47,753.62 1646.19,759.43 1654.08,759.43 1654.8,753.62"/>
</g>
<g fill="#000" shape-rendering="crispEdges">
<rect x="144" y="47" width="6" height="1249"/>
<rect x="144" y="47" width="1691" height="3"/>
<rect x="1848" y="47" width="5" height="1249"/>
<rect x="147" y="1292" width="1688" height="6"/>
<rect x="216" y="1295" width="6" height="25"/>
<rect x="306" y="1295" width="5" height="13"/>
<rect x="396" y="1295" width="5" height="25"/>
<rect x="485" y="1295" width="6" height="13"/>
<rect x="575" y="1295" width="6" height="25"/>
<rect x="665" y="1295" width="5" height="13"/>
<rect x="755" y="1295" width="5" height="25"/>
<rect x="844" y="1295" width="6" height="13"/>
<rect x="934" y="1295" width="6" height="25"/>
<rect x="1024" y="1295" width="5" height="13"/>
<rect x="1113" y="1295" width="6" height="25"/>
<rect x="1203" y="1295" width="6" height="13"/>
<rect x="1293" y="1295" width="5" height="25"/>
<rect x="1383" y="1295" width="5" height="13"/>
<rect x="1472" y="1295" width="6" height="25"/>
<rect x="1562" y="1295" width="6" height="13"/>
<rect x="1652" y="1295" width="5" height="25"/>
<rect x="1742" y="1295" width="5" height="13"/>
<rect x="1831" y="1295" width="6" height="25"/>
</g>
<g fill="#000080" shape-rendering="crispEdges">
<rect x="333" y="1146" width="10" height="140"/>
<rect x="589" y="1226" width="10" height="60"/>
<rect x="1439" y="1262" width="10" height="24"/>
</g>
<g shape-rendering="crispEdges">
<rect x="1077" y="123" width="117" height="2" fill="#000000"/>
<rect x="1077" y="187" width="117" height="2" fill="#ff0000"/>
<rect x="1074" y="252" width="117" height="2" fill="#0000ff"/>
<rect x="1077" y="316" width="117" height="2" fill="#ff00ff"/>
<rect x="1077" y="380" width="117" height="2" fill="#008000"/>
</g>
<g transform="translate(1034.25,140.25) scale(0.9174,0.9655)"><text font-family="'Liberation Sans', Arial, sans-serif" font-size="52" fill="#000" stroke="#000" stroke-width="0.5">a</text></g>
<g transform="translate(1208.20,140.20) scale(0.9944,0.9946)"><text font-family="'Liberation Sans', Arial, sans-serif" font-size="52" fill="#000" stroke="#000" stroke-width="0.5">50s</text></g>
<g transform="translate(1034.12,205.25) scale(0.9584,0.9548)"><text font-family="'Liberation Sans', Arial, sans-serif" font-size="52" fill="#000" stroke="#000" stroke-width="0.5">b</text></g>
<g transform="translate(1208.05,205.15) scale(1.0024,0.9940)"><text font-family="'Liberation Sans', Arial, sans-serif" font-size="52" fill="#000" stroke="#000" stroke-width="0.5">150s</text><rect x="1.89" y="-5.91" width="10.99" height="7.96" fill="#fff"/><rect x="17.93" y="-5.91" width="10.44" height="7.96" fill="#fff"/></g>
<g transform="translate(1034.00,269.25) scale(1.0441,0.9655)"><text font-family="'Liberation Sans', Arial, sans-serif" font-size="52" fill="#000" stroke="#000" stroke-width="0.5">c</text></g>
<g transform="translate(1206.03,269.25) scale(0.9903,0.9940)"><text font-family="'Liberation Sans', Arial, sans-serif" font-size="52" fill="#000" stroke="#000" stroke-width="0.5">10min</text><rect x="1.89" y="-5.91" width="10.99" height="7.96" fill="#fff"/><rect x="17.93" y="-5.91" width="10.44" height="7.96" fill="#fff"/></g>
<g transform="translate(1034.00,334.25) scale(0.9684,0.9548)"><text font-family="'Liberation Sans', Arial, sans-serif" font-size="52" fill="#000" stroke="#000" stroke-width="0.5">d</text></g>
<g transform="translate(1207.95,334.25) scale(0.9981,0.9940)"><text font-family="'Liberation Sans', Arial, sans-serif" font-size="52" fill="#000" stroke="#000" stroke-width="0.5">15min</text><rect x="1.89" y="-5.91" width="10.99" height="7.96" fill="#fff"/><rect x="17.93" y="-5.91" width="10.44" height="7.96" fill="#fff"/></g>
<g transform="translate(1034.00,398.25) scale(1.0101,0.9655)"><text font-family="'Liberation Sans', Arial, sans-serif" font-size="52" fill="#000" stroke="#000" stroke-width="0.5">e</text></g>
<g transform="translate(1207.80,398.15) scale(1.0010,0.9940)"><text font-family="'Liberation Sans', 'Noto Sans CJK SC', sans-serif" font-size="52" fill="#000" stroke="#000" stroke-width="0.5" dx="0 0 0 0 0 0 0 0 0 3.4">15min 200℃</text><rect x="1.89" y="-5.91" width="10.99" height="7.96" fill="#fff"/><rect x="17.93" y="-5.91" width="10.44" height="7.96" fill="#fff"/></g>
<g transform="translate(1683.00,755.25) scale(1.0101,0.9655)"><text font-family="'Liberation Sans', Arial, sans-serif" font-size="52" fill="#000" stroke="#000" stroke-width="0.5">e</text></g>
<g transform="translate(1677.00,868.25) scale(0.9684,0.9548)"><text font-family="'Liberation Sans', Arial, sans-serif" font-size="52" fill="#000" stroke="#000" stroke-width="0.5">d</text></g>
<g transform="translate(1681.00,965.25) scale(1.0441,0.9655)"><text font-family="'Liberation Sans', Arial, sans-serif" font-size="52" fill="#000" stroke="#000" stroke-width="0.5">c</text></g>
<g transform="translate(1684.12,1061.25) scale(0.9584,0.9548)"><text font-family="'Liberation Sans', Arial, sans-serif" font-size="52" fill="#000" stroke="#000" stroke-width="0.5">b</text></g>
<g transform="translate(1685.25,1155.25) scale(0.9174,0.9655)"><text font-family="'Liberation Sans', Arial, sans-serif" font-size="52" fill="#000" stroke="#000" stroke-width="0.5">a</text></g>
<g transform="translate(372.00,193.58) rotate(-90) scale(1.0000,0.9830)"><text font-family="'Liberation Sans', Arial, sans-serif" font-size="59" fill="#000" stroke="#000" stroke-width="0.5" x="0 22.17 55.17 88.17 120.47">(111)</text><rect x="24.55" y="-6.45" width="12.27" height="8.50" fill="#fff"/><rect x="42.48" y="-6.45" width="11.65" height="8.50" fill="#fff"/><rect x="57.55" y="-6.45" width="12.27" height="8.50" fill="#fff"/><rect x="75.48" y="-6.45" width="11.65" height="8.50" fill="#fff"/><rect x="90.55" y="-6.45" width="12.27" height="8.50" fill="#fff"/><rect x="108.48" y="-6.45" width="11.65" height="8.50" fill="#fff"/></g>
<g transform="translate(620.40,636.17) rotate(-90) scale(0.9983,0.9684)"><text font-family="'Liberation Sans', Arial, sans-serif" font-size="52" fill="#000" stroke="#000" stroke-width="0.5">(200)</text></g>
<g transform="translate(1464.25,668.10) rotate(-90) scale(0.9978,0.9714)"><text font-family="'Liberation Sans', Arial, sans-serif" font-size="52" fill="#000" stroke="#000" stroke-width="0.5">(220)</text></g>
<g transform="translate(1514.82,1280.55) scale(0.9987,1.0094)"><text font-family="'Liberation Sans', Arial, sans-serif" font-size="52" fill="#000" stroke="#000" stroke-width="0.5">PDF#85-1326</text><rect x="209.95" y="-5.91" width="10.99" height="7.96" fill="#fff"/><rect x="225.99" y="-5.91" width="10.44" height="7.96" fill="#fff"/></g>
<text transform="translate(219.30,1375.45) scale(1.0082,1.0027)" text-anchor="middle" font-family="'Liberation Sans', Arial, sans-serif" font-size="52" fill="#000" stroke="#000" stroke-width="0.5">40</text>
<text transform="translate(398.74,1375.45) scale(1.0082,1.0027)" text-anchor="middle" font-family="'Liberation Sans', Arial, sans-serif" font-size="52" fill="#000" stroke="#000" stroke-width="0.5">45</text>
<text transform="translate(578.19,1375.45) scale(1.0082,1.0027)" text-anchor="middle" font-family="'Liberation Sans', Arial, sans-serif" font-size="52" fill="#000" stroke="#000" stroke-width="0.5">50</text>
<text transform="translate(757.63,1375.45) scale(1.0082,1.0027)" text-anchor="middle" font-family="'Liberation Sans', Arial, sans-serif" font-size="52" fill="#000" stroke="#000" stroke-width="0.5">55</text>
<text transform="translate(937.08,1375.45) scale(1.0082,1.0027)" text-anchor="middle" font-family="'Liberation Sans', Arial, sans-serif" font-size="52" fill="#000" stroke="#000" stroke-width="0.5">60</text>
<text transform="translate(1116.52,1375.45) scale(1.0082,1.0027)" text-anchor="middle" font-family="'Liberation Sans', Arial, sans-serif" font-size="52" fill="#000" stroke="#000" stroke-width="0.5">65</text>
<text transform="translate(1295.97,1375.45) scale(1.0082,1.0027)" text-anchor="middle" font-family="'Liberation Sans', Arial, sans-serif" font-size="52" fill="#000" stroke="#000" stroke-width="0.5">70</text>
<text transform="translate(1475.41,1375.45) scale(1.0082,1.0027)" text-anchor="middle" font-family="'Liberation Sans', Arial, sans-serif" font-size="52" fill="#000" stroke="#000" stroke-width="0.5">75</text>
<text transform="translate(1654.86,1375.45) scale(1.0082,1.0027)" text-anchor="middle" font-family="'Liberation Sans', Arial, sans-serif" font-size="52" fill="#000" stroke="#000" stroke-width="0.5">80</text>
<text transform="translate(1834.30,1375.45) scale(1.0082,1.0027)" text-anchor="middle" font-family="'Liberation Sans', Arial, sans-serif" font-size="52" fill="#000" stroke="#000" stroke-width="0.5">85</text>
<text x="1110.4" y="1430" text-anchor="middle" font-family="'Liberation Sans', Arial, sans-serif" font-size="51.8" fill="#000" stroke="#000" stroke-width="0.5">2θ(°)</text>
<text transform="translate(100.8,850) rotate(-90)" x="1.8 31.5 72.3 103.0 135.0 174.8 212.8 245.3 275.5" y="0" font-family="'Liberation Serif', 'Times New Roman', serif" font-size="70" fill="#000">Intensity</text>
</svg>
</body>
</html>
